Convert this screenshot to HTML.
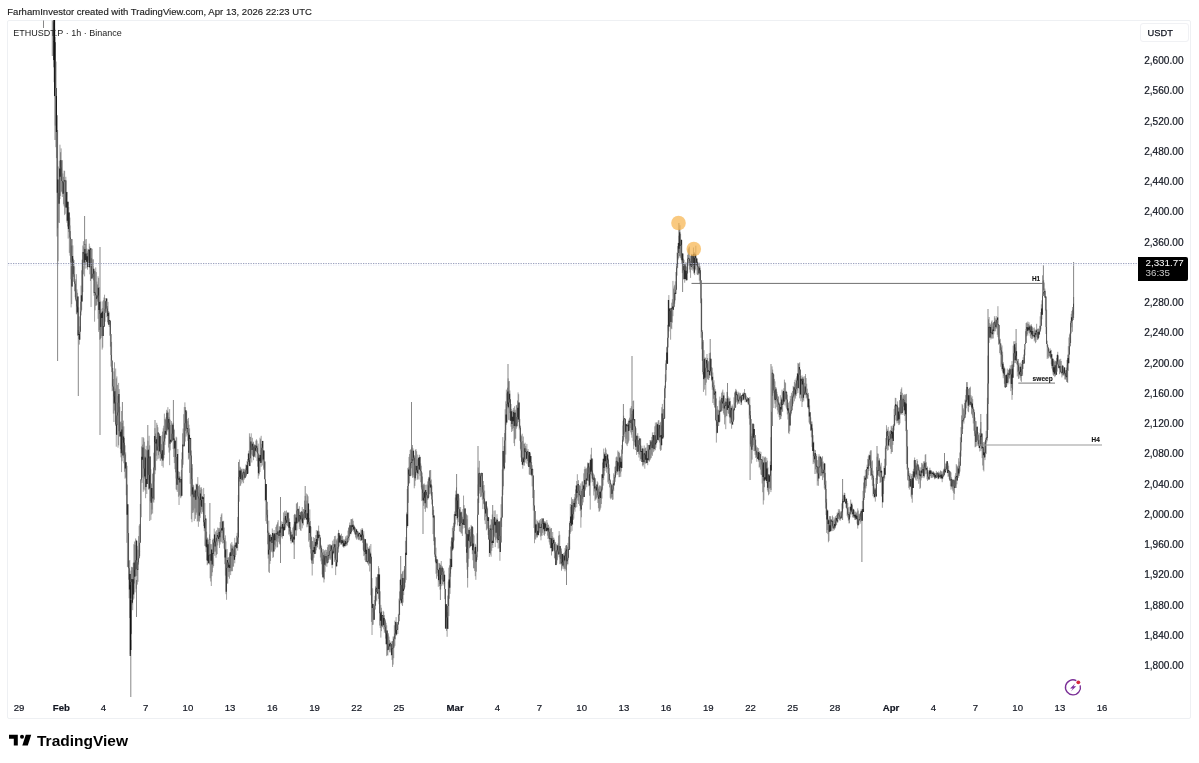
<!DOCTYPE html>
<html><head><meta charset="utf-8"><style>
html,body{margin:0;padding:0;background:#fff;width:1199px;height:763px;overflow:hidden}
body{position:relative;font-family:"Liberation Sans",sans-serif;color:#131722}
.a{position:absolute;white-space:nowrap;line-height:1}
#hdr{left:7.3px;top:7.3px;font-size:9.5px;letter-spacing:0.025px;color:#1c1c1c;-webkit-text-stroke:0.15px #1c1c1c}
#frame{position:absolute;left:7px;top:20px;width:1184px;height:698.5px;border:1px solid #eef0f3;border-radius:2px;box-sizing:border-box}
#sym{left:13.3px;top:28.6px;font-size:9px;color:#222}
.pl{position:absolute;right:15.5px;font-size:10.1px;color:#131722;line-height:1;-webkit-text-stroke:0.2px #131722}
.tl{position:absolute;top:703.2px;font-size:9.6px;color:#131722;line-height:1;-webkit-text-stroke:0.2px #131722;transform:translateX(-50%)}
.tl b{font-weight:bold}
#usdt{left:1140px;top:23px;width:49px;height:19px;border:1px solid #f0f1f4;border-radius:3px;box-sizing:border-box;font-size:9.3px;-webkit-text-stroke:0.25px #131722;text-align:left;padding-left:6.6px;line-height:18.5px;color:#131722}
#tag{left:1138px;top:257px;width:50px;height:24px;background:#000;border-radius:0 2px 2px 0}
#tag .p{position:absolute;left:7.5px;top:0.6px;font-size:9.8px;color:#fff}
#tag .c{position:absolute;left:7.5px;top:11.3px;font-size:9.8px;color:#c9c9c9}
#logo{left:9px;top:733px}
</style></head><body>
<div class="a" id="hdr">FarhamInvestor created with TradingView.com, Apr 13, 2026 22:23 UTC</div>
<div id="frame"></div>
<svg id="ch" width="1199" height="763" style="position:absolute;left:0;top:0">
<path d="M53.50 22.3V67.3M54.09 20.5V82.2M54.68 28.7V96.2M55.26 42.2V125.6M55.85 61.6V147.2M56.44 88.0V158.1M57.02 115.2V236.5M57.61 179.5V228.2M58.20 166.5V261.3M58.78 193.1V222.5M59.37 160.7V223.0M59.96 144.7V199.0M60.54 152.2V195.9M61.13 148.4V192.3M61.72 160.7V191.4M62.30 160.1V197.0M62.89 173.4V193.8M63.47 176.8V204.3M64.06 170.6V206.4M64.65 170.9V215.1M65.23 179.9V213.8M65.82 176.8V207.5M66.41 180.4V207.5M66.99 191.9V222.8M67.58 201.8V226.5M68.17 201.8V238.6M68.75 207.0V232.1M69.34 212.5V252.9M69.93 217.6V255.7M70.51 231.1V262.5M71.10 238.9V307.4M71.69 245.5V304.1M72.27 239.1V286.6M72.86 245.4V274.1M73.45 258.7V276.9M74.03 260.0V281.8M74.62 266.3V291.3M75.21 281.2V297.2M75.79 279.2V301.2M76.38 274.2V314.2M76.97 289.4V314.3M77.55 292.8V335.8M78.14 296.5V334.9M78.73 307.4V339.0M79.31 316.4V344.6M79.90 326.3V339.7M80.49 301.7V331.7M81.07 285.6V315.4M81.66 270.3V309.9M82.25 259.6V301.5M82.83 245.5V292.1M83.42 241.2V274.4M84.01 247.2V265.4M84.59 244.0V276.4M85.18 239.4V268.6M85.77 243.9V264.9M86.35 239.0V261.7M86.94 248.6V268.3M87.53 252.8V269.7M88.11 249.6V267.1M88.70 249.6V260.4M89.29 243.6V267.3M89.87 246.4V274.3M90.46 248.2V281.0M91.05 248.2V307.0M91.63 258.2V278.9M92.22 248.8V278.4M92.80 259.4V277.1M93.39 259.3V280.3M93.98 268.8V295.8M94.56 270.8V321.7M95.15 271.2V310.3M95.74 267.4V305.9M96.32 272.1V305.6M96.91 281.6V304.9M97.50 284.4V301.6M98.08 276.3V318.8M98.67 278.0V331.9M99.26 287.2V330.0M99.84 300.5V339.8M100.43 301.6V338.9M101.02 308.8V338.0M101.60 312.8V336.1M102.19 301.4V349.6M102.78 308.0V347.6M103.36 300.2V336.0M103.95 297.5V326.5M104.54 294.7V326.5M105.12 298.0V321.7M105.71 300.9V311.5M106.30 298.5V312.6M106.88 298.5V317.2M107.47 306.1V322.2M108.06 301.9V323.7M108.64 311.0V324.7M109.23 312.4V327.0M109.82 319.9V335.7M110.40 320.7V346.6M110.99 334.1V366.5M111.58 341.9V372.1M112.16 360.6V391.2M112.75 368.0V390.5M113.34 379.0V413.6M113.92 371.4V422.0M114.51 362.3V410.5M115.10 388.6V413.6M115.68 368.5V425.9M116.27 378.4V446.7M116.86 376.4V434.8M117.44 384.9V425.1M118.03 396.0V447.7M118.62 382.9V445.3M119.20 389.1V431.1M119.79 406.7V436.4M120.38 422.1V449.1M120.96 421.3V457.3M121.55 411.0V472.1M122.13 423.0V461.3M122.72 426.6V455.4M123.31 420.6V457.8M123.89 426.3V463.3M124.48 438.0V471.8M125.07 445.3V478.7M125.65 452.4V477.7M126.24 462.2V495.2M126.83 465.8V542.8M127.41 484.5V567.1M128.00 504.3V566.7M128.59 533.1V579.7M129.17 560.9V598.3M129.76 560.0V618.0M130.35 573.9V654.2M130.93 570.6V634.4M131.52 566.8V633.8M132.11 567.3V604.5M132.69 567.3V610.2M133.28 562.9V599.8M133.87 544.2V598.6M134.45 541.5V583.5M135.04 545.0V592.4M135.63 538.4V576.2M136.21 539.8V588.8M136.80 540.7V575.9M137.39 545.8V584.6M137.97 549.7V581.8M138.56 536.1V564.6M139.15 525.6V558.2M139.73 524.0V556.2M140.32 504.0V542.7M140.91 479.3V517.2M141.49 446.4V480.3M142.08 437.2V482.9M142.67 444.6V477.6M143.25 437.2V491.8M143.84 438.3V489.5M144.43 441.8V478.6M145.01 456.3V490.5M145.60 449.2V498.2M146.19 445.8V487.1M146.77 450.1V494.0M147.36 451.0V484.0M147.95 440.7V473.7M148.53 449.7V489.4M149.12 435.8V489.7M149.71 445.4V521.0M150.29 456.4V501.2M150.88 469.3V519.9M151.46 483.4V514.5M152.05 488.0V509.5M152.64 473.8V513.6M153.22 472.7V501.6M153.81 452.7V502.7M154.40 436.0V499.7M154.98 428.1V474.2M155.57 433.5V470.5M156.16 437.0V455.7M156.74 422.8V460.8M157.33 424.9V450.5M157.92 427.3V459.2M158.50 432.6V455.2M159.09 433.6V458.4M159.68 434.6V451.8M160.26 436.0V460.9M160.85 436.6V460.5M161.44 444.2V459.1M162.02 435.1V466.0M162.61 431.6V460.5M163.20 428.3V467.6M163.78 425.7V458.3M164.37 413.6V454.9M164.96 419.0V444.9M165.54 419.6V438.5M166.13 417.2V434.6M166.72 409.8V435.1M167.30 410.8V430.2M167.89 407.2V431.5M168.48 412.5V447.5M169.06 417.2V452.6M169.65 409.1V465.2M170.24 419.7V450.4M170.82 425.0V441.8M171.41 421.1V442.8M172.00 423.4V440.6M172.58 424.8V441.3M173.17 422.7V449.1M173.76 428.5V457.0M174.34 429.7V463.1M174.93 440.7V469.2M175.52 440.7V472.3M176.10 436.7V489.4M176.69 437.5V490.2M177.28 454.1V491.9M177.86 449.0V484.9M178.45 471.3V496.7M179.04 476.1V505.0M179.62 471.8V495.4M180.21 476.6V496.5M180.79 479.1V498.2M181.38 470.0V496.6M181.97 452.4V495.8M182.55 433.3V467.8M183.14 428.5V464.7M183.73 414.2V446.2M184.31 407.0V446.2M184.90 402.4V441.5M185.49 407.1V430.8M186.07 410.2V436.6M186.66 411.1V433.6M187.25 419.1V435.3M187.83 421.1V440.8M188.42 417.9V459.5M189.01 424.7V458.3M189.59 428.4V472.9M190.18 438.0V483.9M190.77 437.8V496.4M191.35 450.5V519.2M191.94 468.0V522.2M192.53 464.2V513.0M193.11 484.7V510.3M193.70 485.4V512.5M194.29 490.7V521.1M194.87 489.4V508.4M195.46 490.4V518.8M196.05 483.7V514.8M196.63 484.6V512.6M197.22 483.9V521.6M197.81 477.1V521.0M198.39 486.1V526.8M198.98 486.3V520.7M199.57 484.8V521.7M200.15 490.1V517.9M200.74 487.5V505.6M201.33 487.3V513.9M201.91 489.1V509.7M202.50 496.1V511.9M203.09 497.2V513.7M203.67 487.9V526.1M204.26 494.0V531.2M204.85 503.0V545.9M205.43 515.1V546.2M206.02 518.6V552.1M206.61 531.7V560.3M207.19 537.7V565.2M207.78 537.7V564.3M208.37 539.5V563.2M208.95 542.3V563.2M209.54 534.4V564.5M210.12 539.0V578.3M210.71 544.1V581.5M211.30 544.2V586.0M211.88 549.6V576.1M212.47 539.8V572.3M213.06 538.4V567.7M213.64 539.0V566.0M214.23 528.6V551.7M214.82 534.5V555.8M215.40 531.5V551.6M215.99 537.9V557.8M216.58 530.2V554.9M217.16 533.0V554.0M217.75 527.5V545.4M218.34 528.0V540.9M218.92 529.5V542.5M219.51 528.1V548.0M220.10 522.0V544.5M220.68 517.0V541.6M221.27 514.6V542.2M221.86 513.3V533.1M222.44 521.4V543.4M223.03 521.4V538.2M223.62 520.8V543.1M224.20 527.6V548.9M224.79 538.0V564.2M225.38 535.4V575.6M225.96 541.4V594.2M226.55 562.5V599.8M227.14 549.0V583.5M227.72 557.7V583.6M228.31 557.1V576.8M228.90 557.7V571.9M229.48 553.6V578.7M230.07 552.3V571.5M230.66 543.5V575.1M231.24 545.1V571.3M231.83 542.1V571.1M232.42 546.2V571.2M233.00 544.6V566.7M233.59 546.5V566.6M234.18 548.9V559.8M234.76 537.8V563.3M235.35 543.3V557.1M235.94 542.5V555.0M236.52 535.9V548.7M237.11 532.9V547.9M237.70 517.0V550.7M238.28 495.0V537.4M238.87 470.5V501.7M239.45 459.5V481.6M240.04 466.7V486.1M240.63 467.5V485.5M241.21 468.9V478.1M241.80 468.8V483.6M242.39 473.0V481.6M242.97 468.6V478.2M243.56 468.9V483.2M244.15 470.4V479.8M244.73 469.0V478.6M245.32 468.3V477.7M245.91 464.4V476.6M246.49 465.3V475.4M247.08 461.0V473.9M247.67 459.0V473.9M248.25 453.4V473.5M248.84 450.7V464.4M249.43 433.3V466.1M250.01 436.7V466.1M250.60 437.0V458.6M251.19 433.3V454.4M251.77 443.7V462.5M252.36 437.8V455.6M252.95 442.4V456.2M253.53 441.7V460.2M254.12 446.7V456.8M254.71 444.1V455.6M255.29 445.2V457.6M255.88 440.6V451.5M256.47 439.3V452.2M257.05 440.6V461.1M257.64 447.8V466.7M258.23 443.6V478.7M258.81 455.5V475.8M259.40 454.7V474.3M259.99 437.7V472.0M260.57 439.2V463.0M261.16 435.8V466.8M261.75 443.9V462.4M262.33 440.9V465.5M262.92 440.9V460.8M263.51 450.5V469.7M264.09 450.5V467.7M264.68 461.5V479.2M265.27 461.5V501.3M265.85 484.1V521.1M266.44 484.1V523.8M267.03 501.8V517.5M267.61 509.8V544.3M268.20 530.7V558.6M268.78 520.7V571.8M269.37 532.7V573.0M269.96 534.9V563.9M270.54 534.2V561.0M271.13 536.9V552.1M271.72 535.2V550.7M272.30 528.5V552.3M272.89 532.9V558.0M273.48 533.7V556.9M274.06 530.0V551.5M274.65 533.4V544.6M275.24 534.8V549.4M275.82 527.0V546.6M276.41 525.3V541.5M277.00 524.1V547.7M277.58 522.3V547.1M278.17 520.2V538.4M278.76 530.5V541.9M279.34 526.2V543.6M279.93 526.8V544.5M280.52 526.0V536.4M281.10 525.1V535.5M281.69 521.3V537.2M282.28 524.0V538.7M282.86 522.0V536.1M283.45 512.4V536.1M284.04 517.8V530.2M284.62 510.8V530.2M285.21 513.5V529.8M285.80 511.3V527.7M286.38 510.4V525.3M286.97 513.9V522.7M287.56 512.0V526.0M288.14 512.9V526.9M288.73 512.2V534.6M289.32 518.4V534.2M289.90 522.0V536.4M290.49 527.0V541.0M291.08 530.3V543.5M291.66 532.0V540.9M292.25 534.0V542.4M292.84 527.7V542.2M293.42 526.5V542.6M294.01 524.3V544.5M294.60 513.9V539.4M295.18 514.1V530.3M295.77 515.0V535.7M296.36 503.7V535.8M296.94 503.1V530.4M297.53 502.2V522.9M298.11 509.2V523.4M298.70 508.8V522.1M299.29 506.2V529.1M299.87 511.6V526.7M300.46 512.1V530.4M301.05 512.5V530.9M301.63 511.0V521.5M302.22 507.1V528.3M302.81 514.6V523.3M303.39 509.1V525.3M303.98 509.1V520.2M304.57 500.6V519.6M305.15 495.9V519.7M305.74 504.4V518.1M306.33 493.5V519.5M306.91 500.6V527.3M307.50 494.5V524.3M308.09 496.3V526.7M308.67 503.6V541.7M309.26 517.9V540.1M309.85 509.4V547.2M310.43 521.0V548.9M311.02 526.7V559.5M311.61 537.3V563.5M312.19 541.1V575.5M312.78 541.1V564.0M313.37 537.1V563.8M313.95 544.7V557.7M314.54 537.9V553.9M315.13 539.5V553.9M315.71 535.1V553.5M316.30 530.1V550.3M316.89 535.0V547.7M317.47 530.7V547.2M318.06 530.2V539.0M318.65 525.6V540.7M319.23 531.4V548.9M319.82 535.1V549.7M320.41 537.6V557.5M320.99 544.7V561.3M321.58 545.9V564.3M322.17 549.2V574.5M322.75 558.7V577.3M323.34 549.2V578.3M323.93 551.5V582.5M324.51 550.3V579.3M325.10 553.9V571.9M325.69 549.6V565.9M326.27 550.0V561.7M326.86 552.1V566.8M327.44 547.1V563.2M328.03 544.7V562.7M328.62 545.1V559.9M329.20 544.3V558.0M329.79 544.5V559.4M330.38 544.4V559.7M330.96 545.4V558.1M331.55 545.4V565.1M332.14 544.6V568.2M332.72 540.7V564.7M333.31 543.8V554.3M333.90 539.3V553.6M334.48 536.1V561.8M335.07 544.3V558.0M335.66 535.8V575.1M336.24 539.3V566.6M336.83 540.6V566.3M337.42 538.3V562.3M338.00 533.4V552.6M338.59 529.9V548.7M339.18 532.9V546.4M339.76 534.4V542.6M340.35 535.5V542.5M340.94 536.5V544.9M341.52 533.7V544.3M342.11 536.0V544.6M342.70 536.1V546.5M343.28 539.2V546.9M343.87 541.6V547.9M344.46 539.9V546.1M345.04 538.9V546.8M345.63 536.4V545.9M346.22 538.4V544.3M346.80 535.5V546.1M347.39 535.5V544.8M347.98 530.6V542.2M348.56 527.9V538.4M349.15 527.3V540.4M349.74 522.5V536.0M350.32 525.2V533.7M350.91 519.2V534.3M351.50 519.1V532.2M352.08 519.5V530.0M352.67 518.5V531.1M353.26 520.9V529.8M353.84 524.8V531.8M354.43 525.8V533.6M355.02 527.1V534.7M355.60 528.0V537.4M356.19 528.9V538.6M356.77 529.5V539.8M357.36 531.2V537.6M357.95 531.6V538.9M358.53 532.8V540.1M359.12 533.1V539.3M359.71 532.2V539.9M360.29 533.6V541.1M360.88 529.3V540.2M361.47 530.3V540.9M362.05 528.0V539.9M362.64 528.7V542.8M363.23 533.6V549.7M363.81 531.2V556.1M364.40 538.8V555.4M364.99 539.2V560.3M365.57 539.2V562.0M366.16 543.8V560.7M366.75 542.7V562.0M367.33 543.7V563.1M367.92 547.1V564.1M368.51 548.8V565.5M369.09 547.9V562.4M369.68 545.8V571.5M370.27 551.8V563.8M370.85 544.0V595.3M371.44 556.8V621.9M372.03 578.1V635.0M372.61 588.3V625.0M373.20 604.1V624.7M373.79 608.1V620.0M374.37 600.0V619.7M374.96 595.8V609.8M375.55 586.3V605.9M376.13 576.9V600.2M376.72 577.5V601.4M377.31 576.9V593.6M377.89 574.2V594.1M378.48 566.1V598.9M379.07 568.1V604.3M379.65 574.4V625.5M380.24 591.3V628.0M380.83 604.9V637.6M381.41 607.8V631.1M382.00 615.3V627.1M382.59 615.3V627.3M383.17 610.8V625.9M383.76 611.8V629.3M384.35 615.1V632.8M384.93 621.3V631.4M385.52 619.4V638.6M386.10 622.8V644.2M386.69 625.3V656.1M387.28 630.6V655.1M387.86 635.1V655.5M388.45 633.3V649.8M389.04 636.6V649.6M389.62 640.1V652.3M390.21 642.8V650.3M390.80 641.7V652.4M391.38 644.1V655.6M391.97 641.2V659.9M392.56 641.1V667.0M393.14 636.5V664.6M393.73 636.7V658.2M394.32 625.3V647.6M394.90 620.7V645.8M395.49 621.9V639.3M396.08 617.1V634.4M396.66 623.5V635.5M397.25 622.0V629.9M397.84 622.1V634.0M398.42 613.8V624.5M399.01 598.6V621.3M399.60 591.4V614.9M400.18 579.7V600.6M400.77 578.7V603.5M401.36 574.1V602.7M401.94 573.6V604.6M402.53 571.5V606.0M403.12 570.9V602.6M403.70 577.9V595.1M404.29 569.5V589.9M404.88 566.1V587.3M405.46 540.8V582.7M406.05 537.1V580.1M406.64 512.5V555.0M407.22 489.0V527.7M407.81 468.1V526.0M408.40 467.3V502.9M408.98 456.9V483.9M409.57 454.0V483.1M410.16 450.0V476.0M410.74 449.2V476.3M411.33 450.5V468.3M411.92 447.4V475.6M412.50 445.0V477.8M413.09 448.4V475.2M413.68 450.7V477.4M414.26 455.1V488.3M414.85 456.2V485.9M415.43 449.8V480.7M416.02 449.1V475.4M416.61 451.2V472.7M417.19 459.3V479.9M417.78 454.6V478.7M418.37 457.8V474.0M418.95 457.8V479.6M419.54 454.8V469.8M420.13 456.7V475.8M420.71 463.4V482.2M421.30 465.7V487.4M421.89 472.6V501.1M422.47 476.5V500.0M423.06 486.3V500.4M423.65 483.9V505.8M424.23 483.5V500.8M424.82 485.0V508.9M425.41 489.9V511.9M425.99 484.7V507.5M426.58 492.0V507.4M427.17 484.5V508.3M427.75 481.4V499.9M428.34 478.9V498.3M428.93 476.8V497.3M429.51 470.5V494.2M430.10 470.2V487.6M430.69 470.0V493.7M431.27 479.5V495.7M431.86 485.6V504.4M432.45 492.1V514.9M433.03 506.3V534.1M433.62 509.9V541.1M434.21 515.5V545.2M434.79 536.8V557.0M435.38 537.5V561.7M435.97 547.7V573.8M436.55 556.3V578.7M437.14 559.3V572.8M437.73 559.8V576.3M438.31 569.9V586.8M438.90 562.9V581.4M439.49 563.4V586.1M440.07 563.6V589.7M440.66 567.4V589.3M441.25 561.0V586.2M441.83 565.7V579.4M442.42 566.5V584.1M443.01 568.3V585.6M443.59 568.4V582.0M444.18 570.7V584.1M444.76 574.8V599.2M445.35 589.1V628.6M445.94 604.3V628.9M446.52 604.3V630.9M447.11 612.1V636.8M447.70 595.6V628.8M448.28 581.5V628.9M448.87 567.7V616.1M449.46 565.3V598.8M450.04 558.4V593.9M450.63 546.5V576.8M451.22 541.3V569.3M451.80 537.6V567.1M452.39 527.9V551.0M452.98 525.9V549.4M453.56 522.8V548.0M454.15 514.3V540.5M454.74 511.5V527.3M455.32 497.5V524.4M455.91 490.6V515.9M456.50 487.4V516.0M457.08 493.3V519.8M457.67 494.1V525.5M458.26 493.6V522.2M458.84 495.1V516.9M459.43 507.2V531.6M460.02 509.9V525.9M460.60 507.0V532.2M461.19 511.5V533.6M461.78 512.2V533.3M462.36 516.9V536.0M462.95 509.0V528.6M463.54 495.6V524.7M464.12 505.1V524.7M464.71 508.5V527.9M465.30 508.5V534.3M465.88 515.0V546.8M466.47 513.7V562.7M467.06 519.2V569.7M467.64 515.3V587.6M468.23 528.4V566.9M468.82 530.1V558.8M469.40 527.2V548.2M469.99 532.0V547.4M470.58 528.8V546.9M471.16 524.9V546.1M471.75 526.5V542.9M472.34 526.5V554.2M472.92 527.3V560.3M473.51 534.2V568.2M474.09 535.5V568.4M474.68 551.3V571.0M475.27 543.8V576.2M475.85 545.4V579.8M476.44 554.7V571.7M477.03 533.3V560.0M477.61 498.6V551.6M478.20 467.5V514.8M478.79 473.3V502.9M479.37 460.8V493.6M479.96 473.1V490.5M480.55 474.6V497.2M481.13 473.2V496.9M481.72 472.9V495.8M482.31 472.9V499.7M482.89 485.6V509.1M483.48 481.0V503.7M484.07 485.0V504.4M484.65 490.6V520.4M485.24 502.6V524.1M485.83 501.5V516.8M486.41 501.3V530.3M487.00 506.3V529.3M487.59 507.7V528.4M488.17 517.3V535.0M488.76 517.3V539.7M489.35 528.1V556.9M489.93 525.4V553.0M490.52 524.6V554.6M491.11 519.0V556.7M491.69 519.7V550.8M492.28 514.5V545.2M492.87 522.4V548.0M493.45 518.8V542.9M494.04 510.7V535.8M494.63 517.0V537.3M495.21 510.4V547.1M495.80 517.9V540.1M496.39 519.0V538.5M496.97 514.2V542.5M497.56 518.6V542.9M498.15 521.8V548.6M498.73 521.4V540.4M499.32 521.4V548.2M499.91 521.4V560.8M500.49 517.7V551.9M501.08 504.3V542.5M501.67 496.5V527.0M502.25 469.5V517.6M502.84 437.1V495.2M503.42 450.9V486.3M504.01 446.0V470.5M504.60 433.0V468.6M505.18 409.2V462.7M505.77 401.3V454.6M506.36 389.6V424.7M506.94 393.3V422.6M507.53 387.7V405.8M508.12 378.4V408.5M508.70 381.4V419.8M509.29 381.0V420.4M509.88 390.5V413.1M510.46 399.3V420.7M511.05 404.0V426.7M511.64 408.9V432.0M512.22 411.4V429.0M512.81 410.4V430.9M513.40 407.9V428.1M513.98 410.3V443.2M514.57 406.3V446.1M515.16 411.8V439.4M515.74 409.7V438.6M516.33 405.3V428.8M516.92 404.9V427.3M517.50 400.5V426.0M518.09 392.4V419.4M518.68 394.2V422.1M519.26 402.6V429.5M519.85 418.9V440.8M520.44 425.6V448.8M521.02 434.8V457.5M521.61 436.2V461.8M522.20 433.7V464.7M522.78 441.0V468.7M523.37 436.5V465.5M523.96 443.8V462.3M524.54 443.8V465.6M525.13 442.7V462.6M525.72 446.1V460.0M526.30 448.6V458.8M526.89 443.9V463.7M527.48 450.9V460.9M528.06 449.0V465.7M528.65 451.9V466.9M529.24 451.9V474.4M529.82 451.9V475.0M530.41 453.3V469.0M531.00 456.1V475.3M531.58 462.0V476.2M532.17 465.2V486.4M532.75 469.0V498.0M533.34 475.5V510.6M533.93 489.9V528.0M534.51 505.5V543.2M535.10 511.1V539.2M535.69 523.5V539.6M536.27 524.1V536.6M536.86 519.6V537.8M537.45 521.1V537.3M538.03 521.8V535.8M538.62 522.6V535.1M539.21 520.1V531.7M539.79 521.4V533.0M540.38 519.0V536.5M540.97 523.6V540.3M541.55 518.3V535.6M542.14 520.5V535.8M542.73 518.5V532.9M543.31 518.5V530.2M543.90 521.7V535.0M544.49 521.5V535.8M545.07 521.2V533.9M545.66 522.1V530.7M546.25 523.9V531.0M546.83 520.0V531.8M547.42 522.7V535.7M548.01 525.0V539.0M548.59 524.6V537.8M549.18 528.5V542.3M549.77 526.7V544.7M550.35 529.1V548.3M550.94 528.0V548.1M551.53 528.2V555.5M552.11 536.1V551.3M552.70 532.0V551.3M553.29 537.7V550.8M553.87 537.7V549.5M554.46 539.5V558.0M555.05 541.9V559.3M555.63 542.3V565.1M556.22 544.1V565.1M556.81 545.2V563.5M557.39 545.2V559.9M557.98 543.4V554.2M558.57 535.6V554.9M559.15 531.1V557.3M559.74 534.8V564.2M560.33 546.1V559.1M560.91 551.4V564.5M561.50 548.5V570.7M562.08 554.0V568.8M562.67 554.0V566.1M563.26 553.2V567.2M563.84 554.9V569.2M564.43 552.4V568.7M565.02 548.1V571.3M565.60 545.6V568.9M566.19 549.4V570.0M566.78 545.3V565.6M567.36 546.6V564.1M567.95 542.9V564.4M568.54 536.7V557.8M569.12 530.0V549.5M569.71 521.3V549.5M570.30 504.0V533.8M570.88 507.0V532.1M571.47 497.3V525.8M572.06 501.7V530.8M572.64 499.1V525.0M573.23 499.3V520.0M573.82 501.0V518.6M574.40 497.3V509.5M574.99 494.0V511.7M575.58 489.4V508.0M576.16 485.5V504.0M576.75 481.0V507.2M577.34 474.2V497.4M577.92 484.1V500.6M578.51 480.2V504.0M579.10 485.3V496.6M579.68 490.7V505.7M580.27 485.9V511.0M580.86 483.4V527.7M581.44 491.0V517.3M582.03 481.5V505.3M582.62 481.4V498.8M583.20 484.6V502.4M583.79 473.3V496.9M584.38 469.2V496.9M584.96 466.6V490.9M585.55 468.6V489.5M586.14 469.2V484.3M586.72 468.1V487.2M587.31 466.7V480.6M587.90 462.3V477.9M588.48 463.2V481.3M589.07 466.1V486.4M589.66 462.6V495.7M590.24 459.2V509.6M590.83 454.5V482.5M591.41 447.8V475.5M592.00 458.6V478.5M592.59 458.7V482.0M593.17 472.8V485.9M593.76 474.0V495.5M594.35 475.3V491.5M594.93 479.5V500.9M595.52 478.2V499.6M596.11 487.3V499.5M596.69 484.6V498.2M597.28 481.3V497.1M597.87 482.5V503.0M598.45 488.6V508.2M599.04 486.8V511.8M599.63 485.3V511.2M600.21 486.2V509.6M600.80 485.6V507.7M601.39 486.7V504.0M601.97 474.3V498.6M602.56 462.5V490.4M603.15 458.8V485.7M603.73 448.6V479.9M604.32 452.4V475.7M604.91 453.7V471.1M605.49 447.7V465.3M606.08 449.5V468.5M606.67 452.9V472.7M607.25 454.6V468.8M607.84 454.6V482.4M608.43 458.5V484.0M609.01 464.4V480.7M609.60 473.9V487.4M610.19 479.2V497.8M610.77 482.9V499.3M611.36 484.5V498.4M611.95 486.1V497.0M612.53 484.7V499.9M613.12 480.3V499.5M613.71 473.3V491.1M614.29 474.9V485.9M614.88 466.7V481.8M615.47 466.4V478.2M616.05 457.4V475.2M616.64 456.5V473.3M617.23 457.3V471.6M617.81 450.5V474.8M618.40 452.0V469.2M618.99 451.6V477.2M619.57 453.1V477.1M620.16 457.5V473.4M620.74 455.9V476.8M621.33 458.8V471.5M621.92 444.9V468.0M622.50 436.0V453.8M623.09 421.1V442.0M623.68 415.7V441.2M624.26 418.4V437.1M624.85 418.0V433.7M625.44 419.1V443.3M626.02 423.7V438.8M626.61 424.3V444.5M627.20 426.0V446.1M627.78 422.9V443.9M628.37 421.1V442.6M628.96 419.5V440.7M629.54 417.7V430.5M630.13 408.4V428.0M630.72 408.1V432.4M631.30 406.2V434.7M631.89 414.2V437.7M632.48 410.9V431.9M633.06 401.0V441.1M633.65 400.5V449.2M634.24 419.2V445.5M634.82 419.2V442.3M635.41 426.4V450.0M636.00 428.2V446.8M636.58 435.8V454.9M637.17 435.8V451.2M637.76 433.2V452.0M638.34 440.1V454.1M638.93 436.2V457.5M639.52 438.6V454.7M640.10 438.6V460.9M640.69 438.4V459.1M641.28 448.8V459.1M641.86 445.7V461.9M642.45 448.6V465.5M643.04 448.6V466.6M643.62 453.5V464.9M644.21 445.5V463.3M644.80 448.6V468.7M645.38 448.1V463.3M645.97 447.3V463.8M646.56 450.7V463.0M647.14 443.0V463.0M647.73 444.8V465.2M648.32 448.9V461.2M648.90 444.9V460.0M649.49 444.9V461.6M650.07 440.0V460.1M650.66 440.5V458.7M651.25 440.0V457.9M651.83 436.9V454.6M652.42 432.4V455.9M653.01 435.0V449.3M653.59 435.1V452.2M654.18 432.1V450.7M654.77 426.3V448.4M655.35 422.5V450.2M655.94 425.4V447.7M656.53 422.5V443.1M657.11 422.3V442.4M657.70 423.9V439.9M658.29 420.4V440.7M658.87 420.1V435.7M659.46 425.0V442.5M660.05 422.8V449.4M660.63 421.8V451.0M661.22 425.5V449.9M661.81 407.2V445.3M662.39 403.9V438.4M662.98 409.4V438.4M663.57 409.0V437.5M664.15 399.7V418.4M664.74 385.6V418.4M665.33 374.4V398.2M665.91 360.3V382.1M666.50 347.2V370.0M667.09 346.5V363.8M667.67 324.9V363.8M668.26 299.9V347.4M668.85 295.1V331.5M669.43 308.6V326.6M670.02 308.6V326.8M670.61 307.9V339.7M671.19 307.9V328.4M671.78 302.7V329.2M672.37 299.1V322.6M672.95 280.9V316.2M673.54 288.6V309.8M674.13 286.4V307.2M674.71 284.8V303.7M675.30 281.3V300.3M675.89 272.0V293.9M676.47 263.2V289.7M677.06 252.6V275.6M677.65 246.1V268.2M678.23 242.9V259.5M678.82 235.7V258.0M679.40 229.0V256.2M679.99 225.2V256.3M680.58 233.9V257.9M681.16 239.2V259.7M681.75 239.9V263.5M682.34 253.5V273.1M682.92 253.5V271.3M683.51 258.6V279.4M684.10 259.8V279.1M684.68 264.0V282.7M685.27 264.4V279.4M685.86 261.9V280.5M686.44 266.7V280.2M687.03 263.4V280.2M687.62 254.9V273.4M688.20 249.2V265.9M688.79 247.6V263.4M689.38 246.5V269.5M689.96 258.9V272.5M690.55 255.6V277.9M691.14 255.8V266.7M691.72 253.9V269.9M692.31 254.7V268.5M692.90 255.5V270.7M693.48 247.5V269.3M694.07 252.2V273.9M694.66 252.8V275.1M695.24 254.6V269.1M695.83 245.7V270.4M696.42 257.5V265.4M697.00 258.5V274.4M697.59 261.7V274.9M698.18 262.7V275.1M698.76 263.7V273.4M699.35 262.7V280.7M699.94 265.9V284.2M700.52 270.2V303.2M701.11 280.3V337.8M701.70 298.5V349.3M702.28 330.0V360.8M702.87 342.0V374.4M703.46 340.1V391.9M704.04 350.2V379.7M704.63 357.5V389.6M705.22 358.0V385.0M705.80 357.6V395.5M706.39 359.9V382.6M706.98 354.0V377.5M707.56 358.0V379.3M708.15 361.0V379.5M708.73 361.6V380.0M709.32 353.1V378.0M709.91 357.9V375.3M710.49 352.6V372.5M711.08 358.8V375.9M711.67 367.0V381.3M712.25 367.9V389.8M712.84 372.5V403.0M713.43 382.4V398.8M714.01 380.3V405.0M714.60 385.2V407.5M715.19 388.9V407.6M715.77 391.4V421.2M716.36 398.4V442.6M716.95 409.4V433.4M717.53 406.1V432.8M718.12 410.4V426.1M718.71 409.7V426.0M719.29 400.5V422.2M719.88 396.6V421.6M720.47 399.5V411.7M721.05 400.6V411.5M721.64 392.8V410.6M722.23 391.6V410.8M722.81 389.6V408.2M723.40 395.5V413.3M723.99 392.5V414.8M724.57 402.9V424.4M725.16 401.4V417.3M725.75 398.1V429.2M726.33 398.9V415.9M726.92 391.9V416.3M727.51 392.1V409.8M728.09 396.4V413.2M728.68 401.6V414.0M729.27 398.8V416.5M729.85 397.6V423.3M730.44 401.0V423.5M731.03 407.6V419.1M731.61 406.3V428.7M732.20 404.5V424.6M732.79 406.2V424.6M733.37 407.8V421.6M733.96 397.3V419.8M734.55 392.7V410.2M735.13 391.6V407.9M735.72 388.9V407.3M736.31 389.8V402.3M736.89 392.3V400.4M737.48 394.5V404.5M738.06 391.6V403.7M738.65 392.8V403.2M739.24 394.6V403.9M739.82 392.6V401.0M740.41 393.2V401.3M741.00 395.6V405.1M741.58 395.2V404.8M742.17 395.4V400.9M742.76 393.2V399.9M743.34 392.4V400.4M743.93 393.2V399.7M744.52 389.0V397.7M745.10 392.8V402.2M745.69 393.4V400.1M746.28 395.6V402.3M746.86 398.4V401.8M747.45 397.1V402.7M748.04 397.7V404.6M748.62 398.3V404.5M749.21 398.6V418.7M749.80 397.0V424.7M750.38 411.0V444.2M750.97 419.0V446.6M751.56 436.0V463.5M752.14 433.6V459.6M752.73 423.5V447.0M753.32 423.8V445.3M753.90 424.2V451.1M754.49 429.0V451.0M755.08 435.1V454.8M755.66 439.5V457.9M756.25 445.5V455.1M756.84 447.6V461.8M757.42 447.4V458.7M758.01 451.7V459.2M758.60 448.1V461.6M759.18 452.0V467.6M759.77 451.1V466.9M760.36 454.0V469.6M760.94 451.9V474.6M761.53 459.6V475.1M762.12 459.3V483.5M762.70 456.2V492.2M763.29 462.5V504.6M763.88 456.5V500.3M764.46 457.7V487.2M765.05 457.4V480.6M765.64 456.7V479.5M766.22 462.3V481.1M766.81 457.9V483.2M767.39 460.6V490.4M767.98 467.5V492.1M768.57 474.4V495.3M769.15 474.4V494.1M769.74 475.7V488.7M770.33 461.4V488.1M770.91 437.2V492.1M771.50 411.8V470.4M772.09 366.4V426.1M772.67 369.6V395.8M773.26 373.6V393.1M773.85 374.5V408.0M774.43 378.9V400.3M775.02 381.4V403.7M775.61 387.0V408.6M776.19 387.6V401.4M776.78 391.7V407.1M777.37 394.3V410.4M777.95 396.3V414.2M778.54 396.6V412.5M779.13 403.2V417.2M779.71 402.5V420.0M780.30 395.2V418.9M780.89 402.2V419.0M781.47 397.5V416.3M782.06 389.6V411.8M782.65 392.2V411.6M783.23 390.9V404.4M783.82 388.2V402.8M784.41 379.6V401.5M784.99 382.0V405.4M785.58 383.1V399.0M786.17 390.8V407.5M786.75 392.1V409.2M787.34 394.6V414.4M787.93 405.4V419.5M788.51 402.6V432.9M789.10 411.7V434.1M789.69 401.3V431.4M790.27 395.9V425.4M790.86 399.1V415.6M791.45 392.8V413.5M792.03 395.3V410.3M792.62 391.0V406.3M793.21 385.9V403.7M793.79 387.2V397.8M794.38 382.0V401.3M794.97 379.8V396.5M795.55 383.4V398.6M796.14 378.3V396.0M796.72 376.4V394.2M797.31 373.4V390.5M797.90 362.9V393.0M798.48 363.8V387.9M799.07 363.2V389.0M799.66 362.3V398.3M800.24 369.6V394.6M800.83 376.1V401.2M801.42 378.8V398.3M802.00 375.4V407.0M802.59 377.1V402.0M803.18 378.7V399.9M803.76 376.6V401.3M804.35 382.9V394.5M804.94 376.1V395.3M805.52 374.0V394.8M806.11 378.0V398.5M806.70 383.7V397.5M807.28 388.7V400.5M807.87 394.9V407.2M808.46 392.9V409.0M809.04 398.8V422.5M809.63 405.5V423.9M810.22 412.3V424.9M810.80 417.4V430.6M811.39 421.5V437.3M811.98 421.5V446.9M812.56 427.9V450.9M813.15 435.2V464.1M813.74 441.6V462.1M814.32 449.5V463.4M814.91 453.1V474.0M815.50 450.1V469.3M816.08 455.9V473.8M816.67 454.2V472.5M817.26 460.1V485.6M817.84 466.7V481.1M818.43 456.6V485.8M819.02 454.2V478.5M819.60 456.4V467.3M820.19 455.9V475.6M820.78 456.8V476.2M821.36 457.6V476.1M821.95 462.0V475.0M822.54 456.3V480.1M823.12 461.5V474.3M823.71 463.8V477.5M824.30 462.9V488.4M824.88 463.5V489.9M825.47 472.9V508.6M826.05 480.7V515.0M826.64 498.9V532.9M827.23 509.2V530.0M827.81 510.4V534.1M828.40 518.8V542.3M828.99 520.2V540.9M829.57 516.1V532.1M830.16 516.2V531.3M830.75 516.3V531.3M831.33 519.6V530.6M831.92 520.2V531.2M832.51 515.6V528.3M833.09 517.2V531.0M833.68 520.5V528.5M834.27 519.3V530.1M834.85 517.5V527.3M835.44 516.2V528.3M836.03 518.1V524.9M836.61 515.1V525.3M837.20 512.7V522.7M837.79 512.7V522.6M838.37 509.2V518.9M838.96 511.4V518.8M839.55 509.3V519.9M840.13 511.4V520.9M840.72 512.5V519.4M841.31 511.1V518.2M841.89 503.4V518.3M842.48 498.9V512.7M843.07 494.9V508.6M843.65 495.5V503.1M844.24 492.7V501.7M844.83 493.0V501.5M845.41 497.2V503.4M846.00 499.0V507.7M846.59 498.2V508.5M847.17 500.9V515.8M847.76 503.0V517.5M848.35 507.2V520.7M848.93 511.9V523.4M849.52 512.5V523.2M850.11 506.7V517.4M850.69 499.6V513.9M851.28 503.5V512.2M851.87 502.6V514.6M852.45 505.2V517.4M853.04 508.5V514.8M853.62 509.0V517.9M854.21 509.8V517.0M854.80 511.7V519.8M855.38 511.6V520.0M855.97 513.7V519.6M856.56 512.6V519.4M857.14 511.5V523.7M857.73 508.4V528.6M858.32 510.5V525.3M858.90 514.2V524.9M859.49 514.2V521.1M860.08 513.2V523.9M860.66 510.9V522.3M861.25 508.9V520.9M861.84 511.2V520.7M862.42 500.8V520.7M863.01 490.8V511.9M863.60 482.5V511.9M864.18 475.9V500.0M864.77 475.8V488.3M865.36 469.8V492.7M865.94 475.1V488.4M866.53 469.1V486.1M867.12 464.7V478.4M867.70 459.0V478.9M868.29 456.2V475.2M868.88 454.6V471.1M869.46 455.3V466.0M870.05 451.5V465.1M870.64 450.3V475.9M871.22 450.3V476.1M871.81 461.5V479.7M872.40 460.5V485.9M872.98 470.6V496.2M873.57 475.8V494.1M874.16 483.9V498.2M874.74 487.6V496.9M875.33 488.0V501.6M875.92 478.0V496.4M876.50 466.9V496.4M877.09 456.8V483.9M877.68 453.4V475.2M878.26 453.8V475.6M878.85 460.5V476.5M879.44 458.3V476.9M880.02 464.5V483.0M880.61 467.0V482.3M881.20 462.8V482.0M881.78 470.8V496.5M882.37 476.5V507.8M882.95 476.8V502.3M883.54 475.4V494.0M884.13 466.1V480.8M884.71 458.8V478.7M885.30 447.7V474.7M885.89 438.0V465.6M886.47 425.2V449.0M887.06 428.8V440.1M887.65 430.5V450.6M888.23 426.9V449.9M888.82 431.4V445.6M889.41 431.5V441.8M889.99 430.5V446.7M890.58 430.1V448.9M891.17 425.8V453.9M891.75 426.4V452.1M892.34 428.1V452.0M892.93 425.4V444.9M893.51 424.2V440.9M894.10 408.9V430.4M894.69 405.6V425.5M895.27 397.8V415.9M895.86 398.0V420.3M896.45 404.9V421.2M897.03 404.1V423.4M897.62 401.4V420.8M898.21 407.3V423.1M898.79 407.9V425.1M899.38 407.4V424.6M899.97 400.1V423.3M900.55 391.8V413.2M901.14 389.1V414.8M901.73 387.4V413.1M902.31 392.9V413.0M902.90 397.7V414.9M903.49 394.7V406.7M904.07 395.5V411.5M904.66 394.2V416.0M905.25 395.2V421.1M905.83 394.2V431.1M906.42 393.9V464.0M907.01 429.8V469.5M907.59 446.4V479.9M908.18 467.8V481.0M908.77 470.9V487.9M909.35 474.7V489.6M909.94 473.0V486.6M910.53 478.9V486.8M911.11 473.9V496.7M911.70 476.1V498.7M912.28 474.0V502.7M912.87 471.2V487.9M913.46 468.8V487.9M914.04 460.3V477.5M914.63 457.5V478.1M915.22 460.0V478.5M915.80 465.4V480.3M916.39 463.3V476.8M916.98 459.0V480.8M917.56 460.8V478.8M918.15 464.5V475.4M918.74 465.6V483.8M919.32 469.5V479.3M919.91 467.4V488.9M920.50 470.8V487.8M921.08 467.4V480.4M921.67 462.9V478.1M922.26 463.4V473.5M922.84 464.8V477.6M923.43 461.4V476.1M924.02 464.1V478.2M924.60 461.2V476.7M925.19 454.8V474.3M925.78 454.1V470.6M926.36 462.3V473.8M926.95 467.9V479.3M927.54 466.5V480.9M928.12 470.2V479.5M928.71 472.2V479.4M929.30 470.6V479.4M929.88 467.7V476.0M930.47 470.4V476.2M931.06 470.4V478.1M931.64 471.4V477.7M932.23 471.6V478.0M932.82 471.7V476.6M933.40 471.3V476.9M933.99 472.1V477.6M934.58 473.5V479.3M935.16 473.4V478.4M935.75 473.1V478.7M936.34 470.9V477.9M936.92 472.7V478.0M937.51 472.7V477.1M938.10 473.0V479.3M938.68 471.4V478.6M939.27 472.5V477.1M939.86 472.7V478.4M940.44 470.4V478.5M941.03 471.0V478.9M941.61 471.5V479.2M942.20 473.6V482.2M942.79 471.5V478.6M943.37 470.6V476.5M943.96 468.6V476.3M944.55 468.3V474.2M945.13 466.5V473.0M945.72 463.6V473.1M946.31 462.6V469.9M946.89 461.2V470.5M947.48 461.2V473.1M948.07 463.4V476.8M948.65 465.7V476.4M949.24 470.5V479.0M949.83 471.2V480.5M950.41 471.7V486.3M951.00 472.4V489.6M951.59 477.3V486.5M952.17 479.3V488.7M952.76 479.7V490.7M953.35 479.7V492.7M953.93 480.6V499.9M954.52 479.8V493.8M955.11 475.7V488.1M955.69 473.1V486.4M956.28 464.1V488.0M956.87 465.3V484.3M957.45 466.7V480.5M958.04 465.8V475.6M958.63 458.2V477.9M959.21 461.6V476.0M959.80 452.5V471.6M960.39 437.3V465.7M960.97 427.1V456.6M961.56 415.4V442.2M962.15 403.9V434.0M962.73 405.3V429.0M963.32 408.3V421.9M963.91 409.8V423.6M964.49 403.0V418.1M965.08 399.5V418.1M965.67 395.1V414.4M966.25 389.4V408.3M966.84 382.3V403.3M967.43 386.9V399.6M968.01 389.0V411.4M968.60 395.3V412.2M969.19 387.6V404.8M969.77 388.0V406.8M970.36 386.6V404.8M970.94 395.1V405.6M971.53 397.6V413.8M972.12 396.2V415.3M972.70 399.1V417.9M973.29 406.8V423.5M973.88 409.6V430.8M974.46 412.2V436.1M975.05 417.5V447.3M975.64 430.6V446.7M976.22 421.2V446.3M976.81 426.7V440.3M977.40 426.7V444.4M977.98 432.1V440.6M978.57 435.1V446.2M979.16 439.7V448.1M979.74 433.0V451.5M980.33 428.6V446.2M980.92 422.0V450.9M981.50 433.6V448.9M982.09 433.6V458.1M982.68 443.7V465.5M983.26 442.0V469.9M983.85 448.5V471.4M984.44 442.4V458.0M985.02 441.3V460.1M985.61 438.3V453.1M986.20 430.9V454.1M986.78 413.9V442.5M987.37 397.8V440.5M987.96 355.6V404.0M988.54 319.3V383.5M989.13 317.0V342.9M989.72 323.0V337.9M990.30 324.9V337.5M990.89 323.7V339.5M991.48 321.7V338.4M992.06 320.4V334.3M992.65 323.3V338.6M993.24 326.6V338.4M993.82 322.3V334.3M994.41 316.2V331.4M995.00 317.9V328.5M995.58 319.6V331.3M996.17 316.0V328.6M996.76 318.7V328.4M997.34 317.5V334.8M997.93 306.2V337.1M998.52 324.0V344.6M999.10 324.9V344.2M999.69 339.6V353.0M1000.27 338.8V354.6M1000.86 343.2V366.8M1001.45 347.4V364.5M1002.03 345.5V370.7M1002.62 351.7V372.5M1003.21 362.0V378.2M1003.79 366.0V376.1M1004.38 367.4V383.7M1004.97 368.5V387.3M1005.55 375.4V387.7M1006.14 374.7V387.1M1006.73 373.8V386.9M1007.31 368.6V382.9M1007.90 372.3V384.4M1008.49 369.7V382.6M1009.07 370.4V378.8M1009.66 368.0V378.2M1010.25 365.4V383.8M1010.83 368.9V391.1M1011.42 364.9V387.9M1012.01 361.1V399.8M1012.59 364.2V389.6M1013.18 345.6V377.7M1013.77 341.3V366.9M1014.35 344.2V363.1M1014.94 341.1V360.2M1015.53 347.4V363.1M1016.11 343.0V356.2M1016.70 351.2V364.3M1017.29 358.9V376.4M1017.87 362.5V371.8M1018.46 359.0V378.9M1019.05 363.4V378.6M1019.63 366.8V375.4M1020.22 362.7V377.6M1020.81 366.7V380.6M1021.39 364.1V381.9M1021.98 361.3V374.4M1022.57 360.0V376.0M1023.15 357.2V368.9M1023.74 354.6V363.5M1024.33 349.4V363.4M1024.91 343.9V355.4M1025.50 331.2V344.0M1026.09 323.0V342.9M1026.67 322.4V336.3M1027.26 323.5V334.2M1027.85 321.5V335.6M1028.43 324.1V331.1M1029.02 322.3V332.8M1029.60 324.8V333.5M1030.19 327.1V336.3M1030.78 324.8V338.1M1031.36 324.3V339.1M1031.95 328.6V335.6M1032.54 326.7V338.9M1033.12 327.9V337.8M1033.71 331.1V336.2M1034.30 327.5V341.4M1034.88 329.5V339.9M1035.47 330.9V343.2M1036.06 329.4V342.1M1036.64 323.8V336.8M1037.23 329.1V339.8M1037.82 328.7V340.1M1038.40 328.5V338.4M1038.99 329.2V337.5M1039.58 325.8V334.5M1040.16 316.3V331.5M1040.75 312.1V329.5M1041.34 304.3V325.8M1041.92 300.3V319.3M1042.51 275.3V314.8M1043.10 281.1V296.1M1043.68 279.9V293.6M1044.27 282.6V295.2M1044.86 288.5V297.7M1045.44 290.8V310.6M1046.03 296.5V334.0M1046.62 309.6V343.9M1047.20 340.7V359.0M1047.79 345.0V357.5M1048.38 347.6V358.4M1048.96 349.1V355.9M1049.55 352.2V356.5M1050.14 348.3V357.6M1050.72 350.8V359.0M1051.31 349.9V364.3M1051.90 354.1V368.5M1052.48 358.4V370.5M1053.07 358.8V374.7M1053.66 360.8V375.8M1054.24 360.4V375.4M1054.83 362.1V377.2M1055.42 360.8V376.0M1056.00 361.2V374.7M1056.59 357.9V374.7M1057.18 354.8V371.6M1057.76 351.8V364.4M1058.35 355.4V367.7M1058.93 359.5V368.6M1059.52 359.5V374.2M1060.11 361.2V369.6M1060.69 358.8V372.6M1061.28 361.0V374.1M1061.87 366.2V377.4M1062.45 364.9V375.1M1063.04 365.8V376.1M1063.63 369.4V375.0M1064.21 367.4V375.6M1064.80 367.4V379.5M1065.39 370.4V379.0M1065.97 370.1V380.0M1066.56 367.5V381.9M1067.15 359.8V377.0M1067.73 354.7V383.0M1068.32 346.2V370.8M1068.91 337.5V363.2M1069.49 334.3V354.6M1070.08 332.7V346.3M1070.67 320.8V343.0M1071.25 313.8V333.5M1071.84 311.0V327.3M1072.43 309.8V331.8M1073.01 307.0V320.1M1073.60 297.0V314.6" stroke="#606060" stroke-width="0.6" fill="none"/>
<path d="M43.50 20.5V28.0M52.30 20.5V56.0M55.00 37.0V140.0M57.60 130.0V361.0M78.30 330.0V396.0M84.60 216.0V245.0M100.00 247.0V435.0M122.40 402.0V440.0M130.80 640.0V697.0M136.50 580.0V617.0M147.80 425.0V480.0M155.00 420.0V470.0M173.40 400.0V440.0M209.90 503.0V540.0M280.50 497.0V563.0M294.20 515.0V559.0M305.20 486.0V518.0M400.70 556.0V600.0M411.50 402.0V460.0M423.00 485.0V534.0M440.40 565.0V600.0M456.60 474.0V512.0M467.60 534.0V578.0M478.00 446.0V496.0M492.70 505.0V530.0M508.00 364.0V400.0M566.50 545.0V585.0M623.40 404.0V435.0M632.00 356.0V420.0M678.90 223.0V253.0M682.60 254.0V292.0M710.20 339.0V370.0M727.50 383.0V410.0M750.10 405.0V480.0M771.00 364.0V490.0M842.60 479.0V520.0M861.90 510.0V562.0M877.00 446.0V480.0M944.50 453.0V475.0M967.00 382.0V400.0M980.80 414.0V440.0M988.00 309.0V430.0M1016.10 329.0V360.0M1043.40 265.0V290.0M1073.60 262.0V318.0M1067.40 360.0V382.0M1012.40 365.0V395.0M238.50 462.0V544.0" stroke="#555" stroke-width="0.7" fill="none"/>
<path d="M53.20 41.0h0.6V41.8h-0.6zM53.79 41.4h0.6V60.2h-0.6zM54.38 42.2h0.6V60.2h-0.6zM54.96 42.2h0.6V61.6h-0.6zM55.55 61.6h0.6V88.0h-0.6zM56.14 88.0h0.6V115.2h-0.6zM56.72 115.2h0.6V192.7h-0.6zM57.31 179.5h0.6V192.7h-0.6zM57.90 179.5h0.6V197.7h-0.6zM58.48 197.7h0.6V203.8h-0.6zM59.07 168.5h0.6V203.8h-0.6zM59.66 168.5h0.6V176.7h-0.6zM60.24 160.1h0.6V176.7h-0.6zM60.83 160.1h0.6V167.6h-0.6zM61.42 167.6h0.6V181.0h-0.6zM62.00 181.0h0.6V183.3h-0.6zM62.59 183.3h0.6V193.8h-0.6zM63.17 181.9h0.6V193.8h-0.6zM63.76 180.6h0.6V181.9h-0.6zM64.35 180.0h0.6V180.8h-0.6zM64.93 180.3h0.6V192.9h-0.6zM65.52 192.9h0.6V207.5h-0.6zM66.11 191.9h0.6V207.5h-0.6zM66.69 191.9h0.6V220.8h-0.6zM67.28 201.8h0.6V220.8h-0.6zM67.87 201.8h0.6V228.9h-0.6zM68.45 212.5h0.6V228.9h-0.6zM69.04 212.5h0.6V225.4h-0.6zM69.63 225.4h0.6V237.5h-0.6zM70.21 237.5h0.6V238.9h-0.6zM70.80 238.9h0.6V279.3h-0.6zM71.39 279.3h0.6V286.6h-0.6zM71.97 255.9h0.6V286.6h-0.6zM72.56 255.9h0.6V261.6h-0.6zM73.15 261.6h0.6V274.2h-0.6zM73.73 274.2h0.6V281.8h-0.6zM74.32 281.8h0.6V283.8h-0.6zM74.91 283.8h0.6V291.2h-0.6zM75.49 291.2h0.6V299.6h-0.6zM76.08 299.6h0.6V306.4h-0.6zM76.67 306.4h0.6V312.6h-0.6zM77.25 296.5h0.6V312.6h-0.6zM77.84 296.5h0.6V334.9h-0.6zM78.43 334.0h0.6V334.9h-0.6zM79.01 334.0h0.6V339.7h-0.6zM79.60 331.7h0.6V339.7h-0.6zM80.19 311.6h0.6V331.7h-0.6zM80.77 295.3h0.6V311.6h-0.6zM81.36 295.3h0.6V301.5h-0.6zM81.95 259.6h0.6V301.5h-0.6zM82.53 252.0h0.6V259.6h-0.6zM83.12 252.0h0.6V253.8h-0.6zM83.71 253.8h0.6V262.4h-0.6zM84.29 249.0h0.6V262.4h-0.6zM84.88 249.0h0.6V260.0h-0.6zM85.47 253.5h0.6V260.0h-0.6zM86.05 253.5h0.6V261.7h-0.6zM86.64 256.2h0.6V261.7h-0.6zM87.23 256.2h0.6V267.1h-0.6zM87.81 251.1h0.6V267.1h-0.6zM88.40 249.6h0.6V251.1h-0.6zM88.99 249.6h0.6V267.3h-0.6zM89.57 249.7h0.6V267.3h-0.6zM90.16 248.2h0.6V249.7h-0.6zM90.75 248.2h0.6V264.1h-0.6zM91.33 264.1h0.6V278.4h-0.6zM91.92 277.1h0.6V278.4h-0.6zM92.50 273.7h0.6V277.1h-0.6zM93.09 268.8h0.6V273.7h-0.6zM93.68 268.8h0.6V292.9h-0.6zM94.26 292.2h0.6V293.0h-0.6zM94.85 292.3h0.6V293.2h-0.6zM95.44 293.2h0.6V295.3h-0.6zM96.02 295.3h0.6V298.8h-0.6zM96.61 297.6h0.6V298.8h-0.6zM97.20 295.4h0.6V297.6h-0.6zM97.78 287.8h0.6V295.4h-0.6zM98.37 287.8h0.6V309.9h-0.6zM98.96 301.9h0.6V309.9h-0.6zM99.54 301.9h0.6V313.8h-0.6zM100.13 313.8h0.6V327.0h-0.6zM100.72 312.8h0.6V327.0h-0.6zM101.30 312.8h0.6V318.1h-0.6zM101.89 311.6h0.6V318.1h-0.6zM102.48 311.6h0.6V336.0h-0.6zM103.06 326.3h0.6V336.0h-0.6zM103.65 326.0h0.6V326.8h-0.6zM104.24 313.0h0.6V326.5h-0.6zM104.82 309.0h0.6V313.0h-0.6zM105.41 301.2h0.6V309.0h-0.6zM106.00 298.5h0.6V301.2h-0.6zM106.58 298.5h0.6V308.5h-0.6zM107.17 308.5h0.6V315.9h-0.6zM107.76 312.7h0.6V315.9h-0.6zM108.34 312.7h0.6V324.7h-0.6zM108.93 319.9h0.6V324.7h-0.6zM109.52 319.9h0.6V320.7h-0.6zM110.10 320.7h0.6V334.1h-0.6zM110.69 334.1h0.6V355.0h-0.6zM111.28 355.0h0.6V360.6h-0.6zM111.86 360.6h0.6V368.0h-0.6zM112.45 368.0h0.6V386.4h-0.6zM113.04 386.4h0.6V396.4h-0.6zM113.62 396.4h0.6V403.6h-0.6zM114.21 391.3h0.6V403.6h-0.6zM114.80 391.3h0.6V402.0h-0.6zM115.38 402.0h0.6V424.6h-0.6zM115.97 424.6h0.6V434.8h-0.6zM116.56 415.4h0.6V434.8h-0.6zM117.14 412.5h0.6V415.4h-0.6zM117.73 402.7h0.6V412.5h-0.6zM118.32 393.9h0.6V402.7h-0.6zM118.90 393.9h0.6V431.1h-0.6zM119.49 431.1h0.6V436.4h-0.6zM120.08 431.8h0.6V436.4h-0.6zM120.66 431.8h0.6V453.2h-0.6zM121.25 429.6h0.6V453.2h-0.6zM121.83 429.6h0.6V450.4h-0.6zM122.42 450.4h0.6V455.4h-0.6zM123.01 436.5h0.6V455.4h-0.6zM123.59 436.5h0.6V442.7h-0.6zM124.18 442.7h0.6V454.5h-0.6zM124.77 454.5h0.6V468.4h-0.6zM125.35 462.2h0.6V468.4h-0.6zM125.94 462.2h0.6V465.8h-0.6zM126.53 465.8h0.6V514.8h-0.6zM127.11 504.3h0.6V514.8h-0.6zM127.70 504.3h0.6V533.1h-0.6zM128.29 533.1h0.6V568.2h-0.6zM128.87 568.2h0.6V589.5h-0.6zM129.46 573.9h0.6V589.5h-0.6zM130.05 573.9h0.6V598.6h-0.6zM130.63 581.9h0.6V598.6h-0.6zM131.22 579.0h0.6V581.9h-0.6zM131.81 579.0h0.6V602.8h-0.6zM132.39 579.3h0.6V602.8h-0.6zM132.98 579.3h0.6V594.4h-0.6zM133.57 562.6h0.6V594.4h-0.6zM134.15 562.6h0.6V576.8h-0.6zM134.74 569.7h0.6V576.8h-0.6zM135.33 560.3h0.6V569.7h-0.6zM135.91 540.7h0.6V560.3h-0.6zM136.50 540.7h0.6V569.3h-0.6zM137.09 569.2h0.6V570.0h-0.6zM137.67 562.2h0.6V569.9h-0.6zM138.26 558.2h0.6V562.2h-0.6zM138.85 556.2h0.6V558.2h-0.6zM139.43 542.7h0.6V556.2h-0.6zM140.02 517.2h0.6V542.7h-0.6zM140.61 479.3h0.6V517.2h-0.6zM141.19 456.7h0.6V479.3h-0.6zM141.78 456.7h0.6V459.7h-0.6zM142.37 447.5h0.6V459.7h-0.6zM142.95 447.5h0.6V448.3h-0.6zM143.54 448.3h0.6V468.5h-0.6zM144.13 468.5h0.6V476.6h-0.6zM144.71 457.6h0.6V476.6h-0.6zM145.30 457.6h0.6V487.1h-0.6zM145.89 479.1h0.6V487.1h-0.6zM146.47 479.1h0.6V484.0h-0.6zM147.06 458.2h0.6V484.0h-0.6zM147.65 449.7h0.6V458.2h-0.6zM148.23 449.7h0.6V475.0h-0.6zM148.82 475.0h0.6V488.6h-0.6zM149.41 456.4h0.6V488.6h-0.6zM149.99 456.4h0.6V484.3h-0.6zM150.58 484.3h0.6V502.8h-0.6zM151.16 488.0h0.6V502.8h-0.6zM151.75 488.0h0.6V496.7h-0.6zM152.34 496.7h0.6V498.4h-0.6zM152.92 481.6h0.6V498.4h-0.6zM153.51 467.5h0.6V481.6h-0.6zM154.10 436.0h0.6V467.5h-0.6zM154.68 436.0h0.6V441.9h-0.6zM155.27 441.9h0.6V443.4h-0.6zM155.86 439.2h0.6V443.4h-0.6zM156.44 439.2h0.6V450.5h-0.6zM157.03 446.4h0.6V450.5h-0.6zM157.62 432.6h0.6V446.4h-0.6zM158.20 432.6h0.6V433.6h-0.6zM158.79 433.6h0.6V451.2h-0.6zM159.38 436.0h0.6V451.2h-0.6zM159.96 436.0h0.6V452.1h-0.6zM160.55 452.1h0.6V453.7h-0.6zM161.14 453.7h0.6V458.6h-0.6zM161.72 450.3h0.6V458.6h-0.6zM162.31 450.3h0.6V460.5h-0.6zM162.90 458.3h0.6V460.5h-0.6zM163.48 441.5h0.6V458.3h-0.6zM164.07 433.3h0.6V441.5h-0.6zM164.66 430.9h0.6V433.3h-0.6zM165.24 430.9h0.6V434.6h-0.6zM165.83 418.2h0.6V434.6h-0.6zM166.42 412.7h0.6V418.2h-0.6zM167.00 412.7h0.6V427.7h-0.6zM167.59 427.7h0.6V429.6h-0.6zM168.18 419.0h0.6V429.6h-0.6zM168.76 419.0h0.6V422.7h-0.6zM169.35 422.7h0.6V443.8h-0.6zM169.94 439.8h0.6V443.8h-0.6zM170.52 439.8h0.6V441.8h-0.6zM171.11 440.6h0.6V441.8h-0.6zM171.70 433.7h0.6V440.6h-0.6zM172.28 424.8h0.6V433.7h-0.6zM172.87 424.8h0.6V439.8h-0.6zM173.46 438.5h0.6V439.8h-0.6zM174.04 438.5h0.6V448.4h-0.6zM174.63 440.7h0.6V448.4h-0.6zM175.22 440.7h0.6V456.9h-0.6zM175.80 456.9h0.6V478.6h-0.6zM176.39 478.6h0.6V484.7h-0.6zM176.98 454.1h0.6V484.7h-0.6zM177.56 454.1h0.6V478.6h-0.6zM178.15 478.6h0.6V479.8h-0.6zM178.74 477.8h0.6V479.8h-0.6zM179.32 477.8h0.6V482.4h-0.6zM179.91 479.8h0.6V482.4h-0.6zM180.49 479.1h0.6V479.9h-0.6zM181.08 479.1h0.6V495.8h-0.6zM181.67 459.3h0.6V495.8h-0.6zM182.25 444.6h0.6V459.3h-0.6zM182.84 444.6h0.6V445.9h-0.6zM183.43 445.7h0.6V446.5h-0.6zM184.01 441.5h0.6V446.2h-0.6zM184.60 423.2h0.6V441.5h-0.6zM185.19 410.2h0.6V423.2h-0.6zM185.77 410.2h0.6V412.0h-0.6zM186.36 412.0h0.6V428.7h-0.6zM186.95 428.1h0.6V428.9h-0.6zM187.53 428.3h0.6V432.5h-0.6zM188.12 432.5h0.6V452.7h-0.6zM188.71 434.7h0.6V452.7h-0.6zM189.29 434.7h0.6V439.0h-0.6zM189.88 438.0h0.6V439.0h-0.6zM190.47 438.0h0.6V455.5h-0.6zM191.05 455.5h0.6V479.1h-0.6zM191.64 479.1h0.6V494.5h-0.6zM192.23 487.3h0.6V494.5h-0.6zM192.81 487.3h0.6V491.4h-0.6zM193.40 491.4h0.6V497.3h-0.6zM193.99 493.1h0.6V497.3h-0.6zM194.57 490.4h0.6V493.1h-0.6zM195.16 490.4h0.6V499.8h-0.6zM195.75 489.0h0.6V499.8h-0.6zM196.33 484.6h0.6V489.0h-0.6zM196.92 484.6h0.6V491.9h-0.6zM197.51 491.9h0.6V496.6h-0.6zM198.09 496.6h0.6V498.6h-0.6zM198.68 498.6h0.6V515.7h-0.6zM199.27 512.6h0.6V515.7h-0.6zM199.85 493.5h0.6V512.6h-0.6zM200.44 493.5h0.6V500.0h-0.6zM201.03 500.0h0.6V506.8h-0.6zM201.61 496.7h0.6V506.8h-0.6zM202.20 496.7h0.6V498.9h-0.6zM202.79 497.2h0.6V498.9h-0.6zM203.37 497.2h0.6V522.2h-0.6zM203.96 522.2h0.6V528.3h-0.6zM204.55 520.0h0.6V528.3h-0.6zM205.13 518.6h0.6V520.0h-0.6zM205.72 518.6h0.6V547.2h-0.6zM206.31 539.6h0.6V547.2h-0.6zM206.89 539.6h0.6V560.7h-0.6zM207.48 544.2h0.6V560.7h-0.6zM208.07 544.2h0.6V563.2h-0.6zM208.65 555.3h0.6V563.2h-0.6zM209.24 554.7h0.6V555.5h-0.6zM209.82 554.2h0.6V555.0h-0.6zM210.41 554.4h0.6V560.8h-0.6zM211.00 549.6h0.6V560.8h-0.6zM211.58 549.6h0.6V564.4h-0.6zM212.17 552.9h0.6V564.4h-0.6zM212.76 552.9h0.6V553.8h-0.6zM213.34 542.5h0.6V553.8h-0.6zM213.93 534.5h0.6V542.5h-0.6zM214.52 534.5h0.6V546.4h-0.6zM215.10 542.0h0.6V546.4h-0.6zM215.69 540.7h0.6V542.0h-0.6zM216.28 537.8h0.6V540.7h-0.6zM216.86 535.0h0.6V537.8h-0.6zM217.45 535.0h0.6V536.5h-0.6zM218.04 536.5h0.6V539.0h-0.6zM218.62 531.9h0.6V539.0h-0.6zM219.21 531.9h0.6V537.3h-0.6zM219.80 531.3h0.6V537.3h-0.6zM220.38 530.5h0.6V531.3h-0.6zM220.97 528.3h0.6V530.5h-0.6zM221.56 528.3h0.6V530.6h-0.6zM222.14 521.4h0.6V530.6h-0.6zM222.73 521.4h0.6V530.4h-0.6zM223.32 530.4h0.6V539.9h-0.6zM223.90 539.9h0.6V547.8h-0.6zM224.49 547.8h0.6V557.4h-0.6zM225.08 549.4h0.6V557.4h-0.6zM225.66 549.4h0.6V591.7h-0.6zM226.25 568.1h0.6V591.7h-0.6zM226.84 560.0h0.6V568.1h-0.6zM227.42 560.0h0.6V562.5h-0.6zM228.01 562.5h0.6V567.5h-0.6zM228.60 564.7h0.6V567.5h-0.6zM229.18 564.7h0.6V568.1h-0.6zM229.77 552.3h0.6V568.1h-0.6zM230.36 552.3h0.6V556.1h-0.6zM230.94 554.2h0.6V556.1h-0.6zM231.53 548.4h0.6V554.2h-0.6zM232.12 548.4h0.6V550.3h-0.6zM232.70 550.3h0.6V555.4h-0.6zM233.29 555.0h0.6V555.8h-0.6zM233.88 555.4h0.6V559.8h-0.6zM234.46 545.2h0.6V559.8h-0.6zM235.05 545.2h0.6V546.7h-0.6zM235.64 542.5h0.6V546.7h-0.6zM236.22 542.5h0.6V547.9h-0.6zM236.81 543.2h0.6V547.9h-0.6zM237.40 537.4h0.6V543.2h-0.6zM237.98 501.7h0.6V537.4h-0.6zM238.57 477.1h0.6V501.7h-0.6zM239.15 470.6h0.6V477.1h-0.6zM239.74 470.6h0.6V479.0h-0.6zM240.33 470.4h0.6V479.0h-0.6zM240.91 470.4h0.6V474.4h-0.6zM241.50 474.4h0.6V479.7h-0.6zM242.09 474.7h0.6V479.7h-0.6zM242.67 472.0h0.6V474.7h-0.6zM243.26 471.6h0.6V472.4h-0.6zM243.85 472.0h0.6V473.5h-0.6zM244.43 473.5h0.6V477.7h-0.6zM245.02 476.4h0.6V477.7h-0.6zM245.61 470.3h0.6V476.4h-0.6zM246.19 465.3h0.6V470.3h-0.6zM246.78 465.3h0.6V473.9h-0.6zM247.37 461.9h0.6V473.9h-0.6zM247.95 453.4h0.6V461.9h-0.6zM248.54 453.4h0.6V460.2h-0.6zM249.13 460.2h0.6V466.1h-0.6zM249.71 457.9h0.6V466.1h-0.6zM250.30 441.5h0.6V457.9h-0.6zM250.89 441.5h0.6V447.5h-0.6zM251.47 447.5h0.6V450.0h-0.6zM252.06 443.7h0.6V450.0h-0.6zM252.65 443.7h0.6V446.4h-0.6zM253.23 446.4h0.6V456.8h-0.6zM253.82 455.6h0.6V456.8h-0.6zM254.41 445.2h0.6V455.6h-0.6zM254.99 445.2h0.6V450.8h-0.6zM255.58 448.1h0.6V450.8h-0.6zM256.17 445.7h0.6V448.1h-0.6zM256.75 445.7h0.6V447.8h-0.6zM257.34 447.8h0.6V453.5h-0.6zM257.93 453.5h0.6V473.2h-0.6zM258.51 457.7h0.6V473.2h-0.6zM259.10 457.7h0.6V461.2h-0.6zM259.69 455.0h0.6V461.2h-0.6zM260.27 455.0h0.6V463.0h-0.6zM260.86 450.1h0.6V463.0h-0.6zM261.45 447.8h0.6V450.1h-0.6zM262.03 440.9h0.6V447.8h-0.6zM262.62 440.9h0.6V459.6h-0.6zM263.21 450.5h0.6V459.6h-0.6zM263.79 450.5h0.6V461.5h-0.6zM264.38 461.5h0.6V479.2h-0.6zM264.97 479.2h0.6V500.0h-0.6zM265.55 484.1h0.6V500.0h-0.6zM266.14 484.1h0.6V501.8h-0.6zM266.73 501.8h0.6V514.7h-0.6zM267.31 514.7h0.6V532.8h-0.6zM267.90 532.8h0.6V554.6h-0.6zM268.48 549.7h0.6V554.6h-0.6zM269.07 534.9h0.6V549.7h-0.6zM269.66 534.9h0.6V541.5h-0.6zM270.24 540.2h0.6V541.5h-0.6zM270.83 536.9h0.6V540.2h-0.6zM271.42 536.9h0.6V543.1h-0.6zM272.00 533.0h0.6V543.1h-0.6zM272.59 533.0h0.6V535.4h-0.6zM273.18 535.4h0.6V551.5h-0.6zM273.76 533.5h0.6V551.5h-0.6zM274.35 533.5h0.6V540.3h-0.6zM274.94 539.3h0.6V540.3h-0.6zM275.52 532.9h0.6V539.3h-0.6zM276.11 532.9h0.6V534.1h-0.6zM276.70 534.0h0.6V534.8h-0.6zM277.28 531.6h0.6V534.6h-0.6zM277.87 531.6h0.6V534.1h-0.6zM278.46 534.1h0.6V536.1h-0.6zM279.04 530.2h0.6V536.1h-0.6zM279.63 530.2h0.6V532.8h-0.6zM280.22 527.6h0.6V532.8h-0.6zM280.80 527.3h0.6V528.1h-0.6zM281.39 527.8h0.6V528.6h-0.6zM281.98 524.0h0.6V528.6h-0.6zM282.56 524.0h0.6V536.1h-0.6zM283.15 526.8h0.6V536.1h-0.6zM283.74 526.8h0.6V530.2h-0.6zM284.32 524.0h0.6V530.2h-0.6zM284.91 516.1h0.6V524.0h-0.6zM285.50 516.1h0.6V520.2h-0.6zM286.08 520.2h0.6V522.7h-0.6zM286.67 518.5h0.6V522.7h-0.6zM287.26 512.9h0.6V518.5h-0.6zM287.84 512.9h0.6V521.6h-0.6zM288.43 521.6h0.6V527.8h-0.6zM289.02 522.0h0.6V527.8h-0.6zM289.60 522.0h0.6V531.4h-0.6zM290.19 531.4h0.6V539.3h-0.6zM290.78 537.7h0.6V539.3h-0.6zM291.36 534.7h0.6V537.7h-0.6zM291.95 534.7h0.6V542.2h-0.6zM292.54 539.5h0.6V542.2h-0.6zM293.12 536.7h0.6V539.5h-0.6zM293.71 536.7h0.6V539.4h-0.6zM294.30 521.8h0.6V539.4h-0.6zM294.88 521.8h0.6V530.3h-0.6zM295.47 517.5h0.6V530.3h-0.6zM296.06 517.5h0.6V523.4h-0.6zM296.64 510.5h0.6V523.4h-0.6zM297.23 509.3h0.6V510.5h-0.6zM297.81 508.8h0.6V509.6h-0.6zM298.40 509.2h0.6V521.5h-0.6zM298.99 515.0h0.6V521.5h-0.6zM299.57 515.0h0.6V515.8h-0.6zM300.16 515.8h0.6V519.6h-0.6zM300.75 512.5h0.6V519.6h-0.6zM301.33 511.7h0.6V512.5h-0.6zM301.92 511.7h0.6V523.3h-0.6zM302.51 518.6h0.6V523.3h-0.6zM303.09 517.8h0.6V518.6h-0.6zM303.68 513.5h0.6V517.8h-0.6zM304.27 511.8h0.6V513.5h-0.6zM304.85 509.9h0.6V511.8h-0.6zM305.44 509.9h0.6V518.1h-0.6zM306.03 518.1h0.6V519.4h-0.6zM306.61 513.3h0.6V519.4h-0.6zM307.20 513.3h0.6V524.3h-0.6zM307.79 503.6h0.6V524.3h-0.6zM308.37 503.6h0.6V522.3h-0.6zM308.96 522.3h0.6V533.1h-0.6zM309.55 526.0h0.6V533.1h-0.6zM310.13 526.0h0.6V536.6h-0.6zM310.72 536.6h0.6V553.4h-0.6zM311.31 553.4h0.6V560.5h-0.6zM311.89 558.5h0.6V560.5h-0.6zM312.48 550.1h0.6V558.5h-0.6zM313.07 550.1h0.6V552.3h-0.6zM313.65 546.9h0.6V552.3h-0.6zM314.24 546.9h0.6V553.9h-0.6zM314.83 542.0h0.6V553.9h-0.6zM315.41 542.0h0.6V546.0h-0.6zM316.00 539.0h0.6V546.0h-0.6zM316.59 539.0h0.6V544.5h-0.6zM317.17 531.2h0.6V544.5h-0.6zM317.76 531.2h0.6V537.9h-0.6zM318.35 534.8h0.6V537.9h-0.6zM318.93 534.6h0.6V535.4h-0.6zM319.52 535.1h0.6V537.6h-0.6zM320.11 537.6h0.6V547.6h-0.6zM320.69 547.4h0.6V548.2h-0.6zM321.28 547.9h0.6V552.4h-0.6zM321.87 552.4h0.6V559.9h-0.6zM322.45 559.9h0.6V577.3h-0.6zM323.04 555.4h0.6V577.3h-0.6zM323.63 555.3h0.6V556.1h-0.6zM324.21 555.9h0.6V564.8h-0.6zM324.80 557.4h0.6V564.8h-0.6zM325.39 555.9h0.6V557.4h-0.6zM325.97 555.9h0.6V558.4h-0.6zM326.56 558.4h0.6V563.2h-0.6zM327.14 562.5h0.6V563.3h-0.6zM327.73 555.6h0.6V562.6h-0.6zM328.32 555.1h0.6V555.9h-0.6zM328.90 551.7h0.6V555.5h-0.6zM329.49 550.9h0.6V551.7h-0.6zM330.08 550.3h0.6V551.1h-0.6zM330.66 545.4h0.6V550.5h-0.6zM331.25 545.4h0.6V549.6h-0.6zM331.84 549.6h0.6V564.7h-0.6zM332.42 551.5h0.6V564.7h-0.6zM333.01 551.5h0.6V552.7h-0.6zM333.60 547.0h0.6V552.7h-0.6zM334.18 544.3h0.6V547.0h-0.6zM334.77 544.3h0.6V548.2h-0.6zM335.36 548.2h0.6V559.7h-0.6zM335.94 559.7h0.6V566.3h-0.6zM336.53 562.3h0.6V566.3h-0.6zM337.12 552.6h0.6V562.3h-0.6zM337.70 547.1h0.6V552.6h-0.6zM338.29 532.9h0.6V547.1h-0.6zM338.88 532.9h0.6V542.6h-0.6zM339.46 535.5h0.6V542.6h-0.6zM340.05 535.5h0.6V542.5h-0.6zM340.64 542.5h0.6V543.5h-0.6zM341.22 540.1h0.6V543.5h-0.6zM341.81 540.1h0.6V543.0h-0.6zM342.40 540.4h0.6V543.0h-0.6zM342.98 540.4h0.6V546.2h-0.6zM343.57 543.2h0.6V546.2h-0.6zM344.16 543.2h0.6V545.9h-0.6zM344.74 541.0h0.6V545.9h-0.6zM345.33 541.0h0.6V544.3h-0.6zM345.92 543.1h0.6V544.3h-0.6zM346.50 541.7h0.6V543.1h-0.6zM347.09 541.6h0.6V542.4h-0.6zM347.68 538.0h0.6V542.2h-0.6zM348.26 536.7h0.6V538.0h-0.6zM348.85 527.3h0.6V536.7h-0.6zM349.44 525.2h0.6V527.3h-0.6zM350.02 525.2h0.6V533.7h-0.6zM350.61 532.2h0.6V533.7h-0.6zM351.20 525.2h0.6V532.2h-0.6zM351.78 525.2h0.6V526.9h-0.6zM352.37 524.7h0.6V526.9h-0.6zM352.96 524.7h0.6V529.6h-0.6zM353.54 526.7h0.6V529.6h-0.6zM354.13 526.7h0.6V531.3h-0.6zM354.72 531.3h0.6V532.4h-0.6zM355.30 532.4h0.6V534.6h-0.6zM355.89 529.5h0.6V534.6h-0.6zM356.47 529.5h0.6V532.0h-0.6zM357.06 531.4h0.6V532.2h-0.6zM357.65 531.6h0.6V536.6h-0.6zM358.23 534.0h0.6V536.6h-0.6zM358.82 533.1h0.6V534.0h-0.6zM359.41 533.1h0.6V534.2h-0.6zM359.99 534.2h0.6V537.0h-0.6zM360.58 534.8h0.6V537.0h-0.6zM361.17 534.8h0.6V539.9h-0.6zM361.75 530.0h0.6V539.9h-0.6zM362.34 530.0h0.6V535.2h-0.6zM362.93 535.2h0.6V537.9h-0.6zM363.51 537.9h0.6V551.3h-0.6zM364.10 550.9h0.6V551.7h-0.6zM364.69 539.2h0.6V551.4h-0.6zM365.27 539.2h0.6V554.1h-0.6zM365.86 549.7h0.6V554.1h-0.6zM366.45 549.7h0.6V562.0h-0.6zM367.03 561.5h0.6V562.3h-0.6zM367.62 561.1h0.6V561.9h-0.6zM368.21 548.9h0.6V561.2h-0.6zM368.79 548.8h0.6V549.6h-0.6zM369.38 549.6h0.6V563.6h-0.6zM369.97 553.5h0.6V563.6h-0.6zM370.55 553.5h0.6V556.8h-0.6zM371.14 556.8h0.6V603.6h-0.6zM371.73 603.6h0.6V608.1h-0.6zM372.31 604.1h0.6V608.1h-0.6zM372.90 604.1h0.6V612.6h-0.6zM373.49 612.6h0.6V619.7h-0.6zM374.07 609.2h0.6V619.7h-0.6zM374.66 605.4h0.6V609.2h-0.6zM375.25 588.7h0.6V605.4h-0.6zM375.83 587.7h0.6V588.7h-0.6zM376.42 587.7h0.6V592.0h-0.6zM377.01 592.0h0.6V593.6h-0.6zM377.59 574.2h0.6V593.6h-0.6zM378.18 574.2h0.6V589.0h-0.6zM378.77 574.4h0.6V589.0h-0.6zM379.35 574.4h0.6V613.3h-0.6zM379.94 613.3h0.6V620.8h-0.6zM380.53 611.8h0.6V620.8h-0.6zM381.11 611.8h0.6V625.8h-0.6zM381.70 615.3h0.6V625.8h-0.6zM382.29 615.1h0.6V615.9h-0.6zM382.87 615.6h0.6V625.1h-0.6zM383.46 617.9h0.6V625.1h-0.6zM384.05 617.9h0.6V621.3h-0.6zM384.63 621.3h0.6V627.0h-0.6zM385.22 627.0h0.6V633.6h-0.6zM385.80 633.6h0.6V644.2h-0.6zM386.39 630.6h0.6V644.2h-0.6zM386.98 630.6h0.6V649.8h-0.6zM387.56 649.4h0.6V650.2h-0.6zM388.15 646.2h0.6V649.8h-0.6zM388.74 643.8h0.6V646.2h-0.6zM389.32 643.8h0.6V646.6h-0.6zM389.91 643.3h0.6V646.6h-0.6zM390.50 643.3h0.6V644.1h-0.6zM391.08 644.1h0.6V655.0h-0.6zM391.67 648.5h0.6V655.0h-0.6zM392.26 648.0h0.6V648.8h-0.6zM392.84 641.3h0.6V648.3h-0.6zM393.43 638.7h0.6V641.3h-0.6zM394.02 636.0h0.6V638.7h-0.6zM394.60 633.6h0.6V636.0h-0.6zM395.19 621.9h0.6V633.6h-0.6zM395.78 621.9h0.6V634.4h-0.6zM396.36 629.9h0.6V634.4h-0.6zM396.95 629.3h0.6V630.1h-0.6zM397.54 624.5h0.6V629.5h-0.6zM398.12 621.3h0.6V624.5h-0.6zM398.71 614.9h0.6V621.3h-0.6zM399.30 600.5h0.6V614.9h-0.6zM399.88 579.7h0.6V600.5h-0.6zM400.47 579.7h0.6V585.1h-0.6zM401.06 585.1h0.6V602.7h-0.6zM401.64 599.1h0.6V602.7h-0.6zM402.23 577.9h0.6V599.1h-0.6zM402.82 577.9h0.6V591.1h-0.6zM403.40 588.8h0.6V591.1h-0.6zM403.99 578.6h0.6V588.8h-0.6zM404.58 566.1h0.6V578.6h-0.6zM405.16 552.7h0.6V566.1h-0.6zM405.75 552.7h0.6V555.0h-0.6zM406.34 514.2h0.6V555.0h-0.6zM406.92 514.2h0.6V526.0h-0.6zM407.51 486.1h0.6V526.0h-0.6zM408.10 469.4h0.6V486.1h-0.6zM408.68 469.4h0.6V474.6h-0.6zM409.27 474.6h0.6V476.0h-0.6zM409.86 465.7h0.6V476.0h-0.6zM410.44 462.4h0.6V465.7h-0.6zM411.03 462.3h0.6V463.1h-0.6zM411.62 459.4h0.6V463.0h-0.6zM412.20 459.4h0.6V460.5h-0.6zM412.79 450.7h0.6V460.5h-0.6zM413.38 450.7h0.6V457.7h-0.6zM413.96 457.7h0.6V465.1h-0.6zM414.55 465.1h0.6V478.2h-0.6zM415.13 471.8h0.6V478.2h-0.6zM415.72 466.1h0.6V471.8h-0.6zM416.31 466.1h0.6V470.3h-0.6zM416.89 470.3h0.6V473.3h-0.6zM417.48 465.7h0.6V473.3h-0.6zM418.07 457.8h0.6V465.7h-0.6zM418.65 457.8h0.6V469.5h-0.6zM419.24 457.1h0.6V469.5h-0.6zM419.83 457.1h0.6V469.6h-0.6zM420.41 469.6h0.6V471.2h-0.6zM421.00 471.2h0.6V472.6h-0.6zM421.59 472.6h0.6V489.6h-0.6zM422.17 489.6h0.6V493.1h-0.6zM422.76 493.1h0.6V500.4h-0.6zM423.35 497.7h0.6V500.4h-0.6zM423.93 491.7h0.6V497.7h-0.6zM424.52 491.7h0.6V503.3h-0.6zM425.11 489.9h0.6V503.3h-0.6zM425.69 489.9h0.6V492.0h-0.6zM426.28 492.0h0.6V495.2h-0.6zM426.87 495.2h0.6V497.1h-0.6zM427.45 497.1h0.6V498.3h-0.6zM428.04 485.4h0.6V498.3h-0.6zM428.63 477.4h0.6V485.4h-0.6zM429.21 477.4h0.6V480.8h-0.6zM429.80 480.8h0.6V487.6h-0.6zM430.39 484.6h0.6V487.6h-0.6zM430.97 484.6h0.6V495.7h-0.6zM431.56 495.7h0.6V499.4h-0.6zM432.15 499.4h0.6V506.3h-0.6zM432.73 506.3h0.6V517.5h-0.6zM433.32 515.5h0.6V517.5h-0.6zM433.91 515.5h0.6V536.8h-0.6zM434.49 536.8h0.6V554.6h-0.6zM435.08 554.6h0.6V561.7h-0.6zM435.67 561.7h0.6V563.2h-0.6zM436.25 559.3h0.6V563.2h-0.6zM436.84 559.3h0.6V569.0h-0.6zM437.43 569.0h0.6V570.1h-0.6zM438.01 570.1h0.6V580.1h-0.6zM438.60 569.2h0.6V580.1h-0.6zM439.19 567.8h0.6V569.2h-0.6zM439.77 567.8h0.6V584.0h-0.6zM440.36 575.1h0.6V584.0h-0.6zM440.95 568.5h0.6V575.1h-0.6zM441.53 567.7h0.6V568.5h-0.6zM442.12 567.7h0.6V571.8h-0.6zM442.71 571.8h0.6V580.7h-0.6zM443.29 580.6h0.6V581.4h-0.6zM443.88 574.8h0.6V581.2h-0.6zM444.46 574.8h0.6V589.1h-0.6zM445.05 589.1h0.6V628.6h-0.6zM445.64 604.3h0.6V628.6h-0.6zM446.22 604.3h0.6V617.4h-0.6zM446.81 617.4h0.6V628.8h-0.6zM447.40 606.1h0.6V628.8h-0.6zM447.98 589.3h0.6V606.1h-0.6zM448.57 579.6h0.6V589.3h-0.6zM449.16 579.6h0.6V587.8h-0.6zM449.74 573.5h0.6V587.8h-0.6zM450.33 559.0h0.6V573.5h-0.6zM450.92 559.0h0.6V567.1h-0.6zM451.50 537.6h0.6V567.1h-0.6zM452.09 537.6h0.6V549.4h-0.6zM452.68 542.2h0.6V549.4h-0.6zM453.26 531.0h0.6V542.2h-0.6zM453.85 526.7h0.6V531.0h-0.6zM454.44 514.0h0.6V526.7h-0.6zM455.02 514.0h0.6V515.9h-0.6zM455.61 494.4h0.6V515.9h-0.6zM456.20 494.4h0.6V500.6h-0.6zM456.78 500.6h0.6V518.2h-0.6zM457.37 494.1h0.6V518.2h-0.6zM457.96 494.1h0.6V498.3h-0.6zM458.54 498.3h0.6V509.1h-0.6zM459.13 509.1h0.6V525.9h-0.6zM459.72 523.9h0.6V525.9h-0.6zM460.30 512.2h0.6V523.9h-0.6zM460.89 512.2h0.6V515.4h-0.6zM461.48 515.4h0.6V522.9h-0.6zM462.06 522.9h0.6V524.4h-0.6zM462.65 519.3h0.6V524.4h-0.6zM463.24 519.3h0.6V524.7h-0.6zM463.82 524.3h0.6V525.1h-0.6zM464.41 508.5h0.6V524.7h-0.6zM465.00 508.5h0.6V515.0h-0.6zM465.58 515.0h0.6V533.4h-0.6zM466.17 533.4h0.6V552.7h-0.6zM466.76 549.0h0.6V552.7h-0.6zM467.34 534.3h0.6V549.0h-0.6zM467.93 534.3h0.6V540.7h-0.6zM468.52 530.1h0.6V540.7h-0.6zM469.10 530.1h0.6V536.5h-0.6zM469.69 536.5h0.6V541.8h-0.6zM470.28 541.8h0.6V546.1h-0.6zM470.86 536.6h0.6V546.1h-0.6zM471.45 526.5h0.6V536.6h-0.6zM472.04 526.5h0.6V550.3h-0.6zM472.62 543.4h0.6V550.3h-0.6zM473.21 543.4h0.6V547.3h-0.6zM473.79 547.3h0.6V551.3h-0.6zM474.38 551.3h0.6V553.7h-0.6zM474.97 546.9h0.6V553.7h-0.6zM475.55 546.9h0.6V561.8h-0.6zM476.14 557.2h0.6V561.8h-0.6zM476.73 551.6h0.6V557.2h-0.6zM477.31 514.8h0.6V551.6h-0.6zM477.90 484.4h0.6V514.8h-0.6zM478.49 473.3h0.6V484.4h-0.6zM479.07 472.8h0.6V473.6h-0.6zM479.66 473.1h0.6V487.1h-0.6zM480.25 476.2h0.6V487.1h-0.6zM480.83 473.2h0.6V476.2h-0.6zM481.42 472.7h0.6V473.5h-0.6zM482.01 472.9h0.6V489.6h-0.6zM482.59 489.6h0.6V492.5h-0.6zM483.18 492.5h0.6V498.4h-0.6zM483.77 498.3h0.6V499.1h-0.6zM484.35 499.0h0.6V509.2h-0.6zM484.94 509.2h0.6V513.4h-0.6zM485.53 501.5h0.6V513.4h-0.6zM486.11 501.5h0.6V508.9h-0.6zM486.70 508.9h0.6V515.9h-0.6zM487.29 515.9h0.6V521.0h-0.6zM487.87 517.3h0.6V521.0h-0.6zM488.46 517.3h0.6V539.4h-0.6zM489.05 539.4h0.6V553.0h-0.6zM489.63 530.0h0.6V553.0h-0.6zM490.22 528.5h0.6V530.0h-0.6zM490.81 528.5h0.6V541.7h-0.6zM491.39 541.7h0.6V542.9h-0.6zM491.98 540.8h0.6V542.9h-0.6zM492.57 540.8h0.6V542.9h-0.6zM493.15 524.5h0.6V542.9h-0.6zM493.74 517.0h0.6V524.5h-0.6zM494.33 517.0h0.6V525.3h-0.6zM494.91 521.8h0.6V525.3h-0.6zM495.50 521.8h0.6V532.8h-0.6zM496.09 520.8h0.6V532.8h-0.6zM496.67 520.1h0.6V520.9h-0.6zM497.26 520.1h0.6V539.4h-0.6zM497.85 539.3h0.6V540.1h-0.6zM498.43 521.4h0.6V540.0h-0.6zM499.02 521.4h0.6V535.9h-0.6zM499.61 535.9h0.6V551.9h-0.6zM500.19 542.5h0.6V551.9h-0.6zM500.78 520.5h0.6V542.5h-0.6zM501.37 517.6h0.6V520.5h-0.6zM501.95 489.6h0.6V517.6h-0.6zM502.54 450.9h0.6V489.6h-0.6zM503.12 450.9h0.6V466.6h-0.6zM503.71 466.6h0.6V468.6h-0.6zM504.30 440.5h0.6V468.6h-0.6zM504.88 429.9h0.6V440.5h-0.6zM505.47 414.6h0.6V429.9h-0.6zM506.06 414.6h0.6V422.6h-0.6zM506.64 403.9h0.6V422.6h-0.6zM507.23 391.4h0.6V403.9h-0.6zM507.82 391.4h0.6V407.2h-0.6zM508.40 402.6h0.6V407.2h-0.6zM508.99 393.7h0.6V402.6h-0.6zM509.58 393.7h0.6V399.3h-0.6zM510.16 399.3h0.6V420.7h-0.6zM510.75 411.3h0.6V420.7h-0.6zM511.34 411.3h0.6V424.0h-0.6zM511.92 416.7h0.6V424.0h-0.6zM512.51 416.7h0.6V421.2h-0.6zM513.10 411.9h0.6V421.2h-0.6zM513.68 411.9h0.6V426.1h-0.6zM514.27 413.0h0.6V426.1h-0.6zM514.86 412.7h0.6V413.5h-0.6zM515.44 413.2h0.6V426.2h-0.6zM516.03 423.2h0.6V426.2h-0.6zM516.62 417.1h0.6V423.2h-0.6zM517.20 407.8h0.6V417.1h-0.6zM517.79 407.8h0.6V419.4h-0.6zM518.38 402.6h0.6V419.4h-0.6zM518.96 402.6h0.6V426.2h-0.6zM519.55 426.2h0.6V427.7h-0.6zM520.14 427.7h0.6V442.3h-0.6zM520.72 442.3h0.6V450.5h-0.6zM521.31 450.5h0.6V461.8h-0.6zM521.90 461.8h0.6V464.7h-0.6zM522.48 457.6h0.6V464.7h-0.6zM523.07 457.6h0.6V462.3h-0.6zM523.66 459.0h0.6V462.3h-0.6zM524.24 448.2h0.6V459.0h-0.6zM524.83 448.2h0.6V452.1h-0.6zM525.42 451.5h0.6V452.3h-0.6zM526.00 451.8h0.6V458.8h-0.6zM526.59 451.9h0.6V458.8h-0.6zM527.18 451.3h0.6V452.1h-0.6zM527.76 451.6h0.6V455.3h-0.6zM528.35 455.3h0.6V466.9h-0.6zM528.94 451.9h0.6V466.9h-0.6zM529.52 451.9h0.6V462.4h-0.6zM530.11 456.1h0.6V462.4h-0.6zM530.70 456.1h0.6V474.7h-0.6zM531.28 468.9h0.6V474.7h-0.6zM531.87 468.6h0.6V469.4h-0.6zM532.45 469.0h0.6V475.5h-0.6zM533.04 475.5h0.6V489.9h-0.6zM533.63 489.9h0.6V505.5h-0.6zM534.21 505.5h0.6V511.1h-0.6zM534.80 511.1h0.6V532.8h-0.6zM535.39 524.5h0.6V532.8h-0.6zM535.97 524.5h0.6V531.6h-0.6zM536.56 531.6h0.6V534.7h-0.6zM537.15 530.7h0.6V534.7h-0.6zM537.73 530.7h0.6V535.1h-0.6zM538.32 523.3h0.6V535.1h-0.6zM538.91 523.3h0.6V527.8h-0.6zM539.49 527.4h0.6V528.2h-0.6zM540.08 527.0h0.6V527.8h-0.6zM540.67 527.0h0.6V527.8h-0.6zM541.25 524.0h0.6V527.8h-0.6zM541.84 521.4h0.6V524.0h-0.6zM542.43 518.5h0.6V521.4h-0.6zM543.01 518.5h0.6V528.9h-0.6zM543.60 522.9h0.6V528.9h-0.6zM544.19 522.9h0.6V531.2h-0.6zM544.77 523.4h0.6V531.2h-0.6zM545.36 523.4h0.6V527.8h-0.6zM545.95 527.8h0.6V531.0h-0.6zM546.53 527.8h0.6V531.0h-0.6zM547.12 527.8h0.6V530.4h-0.6zM547.71 527.9h0.6V530.4h-0.6zM548.29 527.9h0.6V531.8h-0.6zM548.88 531.8h0.6V539.1h-0.6zM549.47 538.5h0.6V539.3h-0.6zM550.05 538.2h0.6V539.0h-0.6zM550.64 538.5h0.6V548.1h-0.6zM551.23 538.2h0.6V548.1h-0.6zM551.81 538.2h0.6V551.3h-0.6zM552.40 543.1h0.6V551.3h-0.6zM552.99 540.0h0.6V543.1h-0.6zM553.57 540.0h0.6V543.9h-0.6zM554.16 543.9h0.6V550.8h-0.6zM554.75 550.8h0.6V552.4h-0.6zM555.33 552.4h0.6V565.1h-0.6zM555.92 560.9h0.6V565.1h-0.6zM556.51 550.2h0.6V560.9h-0.6zM557.09 545.4h0.6V550.2h-0.6zM557.68 545.4h0.6V551.7h-0.6zM558.27 551.7h0.6V554.2h-0.6zM558.85 550.5h0.6V554.2h-0.6zM559.44 546.1h0.6V550.5h-0.6zM560.03 546.1h0.6V551.4h-0.6zM560.61 551.4h0.6V563.6h-0.6zM561.20 562.3h0.6V563.6h-0.6zM561.78 554.0h0.6V562.3h-0.6zM562.37 554.0h0.6V565.5h-0.6zM562.96 562.0h0.6V565.5h-0.6zM563.54 555.6h0.6V562.0h-0.6zM564.13 555.6h0.6V560.4h-0.6zM564.72 556.2h0.6V560.4h-0.6zM565.30 550.8h0.6V556.2h-0.6zM565.89 549.6h0.6V550.8h-0.6zM566.48 549.6h0.6V561.2h-0.6zM567.06 559.7h0.6V561.2h-0.6zM567.65 557.8h0.6V559.7h-0.6zM568.24 549.1h0.6V557.8h-0.6zM568.82 548.9h0.6V549.7h-0.6zM569.41 523.1h0.6V549.5h-0.6zM570.00 516.4h0.6V523.1h-0.6zM570.58 516.4h0.6V525.8h-0.6zM571.17 505.0h0.6V525.8h-0.6zM571.76 505.0h0.6V524.3h-0.6zM572.34 514.2h0.6V524.3h-0.6zM572.93 503.6h0.6V514.2h-0.6zM573.52 502.9h0.6V503.7h-0.6zM574.10 503.0h0.6V507.1h-0.6zM574.69 498.9h0.6V507.1h-0.6zM575.28 498.4h0.6V499.2h-0.6zM575.86 485.5h0.6V498.6h-0.6zM576.45 485.5h0.6V492.9h-0.6zM577.04 490.9h0.6V492.9h-0.6zM577.62 484.1h0.6V490.9h-0.6zM578.21 484.1h0.6V485.3h-0.6zM578.80 485.3h0.6V495.0h-0.6zM579.38 494.5h0.6V495.3h-0.6zM579.97 494.9h0.6V507.8h-0.6zM580.56 507.8h0.6V509.4h-0.6zM581.14 505.3h0.6V509.4h-0.6zM581.73 489.2h0.6V505.3h-0.6zM582.32 488.7h0.6V489.5h-0.6zM582.90 485.4h0.6V489.1h-0.6zM583.49 485.4h0.6V496.9h-0.6zM584.08 480.0h0.6V496.9h-0.6zM584.66 480.0h0.6V483.5h-0.6zM585.25 483.5h0.6V484.3h-0.6zM585.84 478.6h0.6V484.3h-0.6zM586.42 478.6h0.6V480.6h-0.6zM587.01 472.8h0.6V480.6h-0.6zM587.60 463.3h0.6V472.8h-0.6zM588.18 463.3h0.6V467.5h-0.6zM588.77 467.5h0.6V485.4h-0.6zM589.36 474.2h0.6V485.4h-0.6zM589.94 459.9h0.6V474.2h-0.6zM590.53 459.9h0.6V471.7h-0.6zM591.11 458.6h0.6V471.7h-0.6zM591.70 458.6h0.6V470.5h-0.6zM592.29 470.5h0.6V479.3h-0.6zM592.87 479.0h0.6V479.8h-0.6zM593.46 477.5h0.6V479.5h-0.6zM594.05 477.5h0.6V488.4h-0.6zM594.63 486.4h0.6V488.4h-0.6zM595.22 486.4h0.6V487.3h-0.6zM595.81 487.3h0.6V490.6h-0.6zM596.39 484.6h0.6V490.6h-0.6zM596.98 484.6h0.6V486.2h-0.6zM597.57 486.2h0.6V495.2h-0.6zM598.15 495.2h0.6V498.8h-0.6zM598.74 496.9h0.6V498.8h-0.6zM599.33 491.7h0.6V496.9h-0.6zM599.91 491.7h0.6V498.1h-0.6zM600.50 491.6h0.6V498.1h-0.6zM601.09 488.8h0.6V491.6h-0.6zM601.67 474.3h0.6V488.8h-0.6zM602.26 474.3h0.6V477.9h-0.6zM602.85 458.8h0.6V477.9h-0.6zM603.43 458.8h0.6V468.1h-0.6zM604.02 454.3h0.6V468.1h-0.6zM604.61 454.3h0.6V461.2h-0.6zM605.19 456.0h0.6V461.2h-0.6zM605.78 456.0h0.6V467.1h-0.6zM606.37 463.6h0.6V467.1h-0.6zM606.95 454.6h0.6V463.6h-0.6zM607.54 454.6h0.6V459.8h-0.6zM608.13 459.8h0.6V467.9h-0.6zM608.71 467.9h0.6V473.9h-0.6zM609.30 473.9h0.6V480.3h-0.6zM609.89 480.3h0.6V482.9h-0.6zM610.47 482.9h0.6V484.5h-0.6zM611.06 484.5h0.6V493.6h-0.6zM611.65 493.2h0.6V494.0h-0.6zM612.23 489.4h0.6V493.5h-0.6zM612.82 483.5h0.6V489.4h-0.6zM613.41 483.5h0.6V484.7h-0.6zM613.99 481.8h0.6V484.7h-0.6zM614.58 477.1h0.6V481.8h-0.6zM615.17 471.0h0.6V477.1h-0.6zM615.75 461.3h0.6V471.0h-0.6zM616.34 460.8h0.6V461.6h-0.6zM616.93 461.0h0.6V471.6h-0.6zM617.51 462.3h0.6V471.6h-0.6zM618.10 462.3h0.6V465.7h-0.6zM618.69 465.7h0.6V471.3h-0.6zM619.27 457.5h0.6V471.3h-0.6zM619.86 457.5h0.6V467.5h-0.6zM620.44 461.7h0.6V467.5h-0.6zM621.03 461.7h0.6V468.0h-0.6zM621.62 449.4h0.6V468.0h-0.6zM622.20 439.8h0.6V449.4h-0.6zM622.79 425.4h0.6V439.8h-0.6zM623.38 419.6h0.6V425.4h-0.6zM623.96 418.4h0.6V419.6h-0.6zM624.55 418.3h0.6V419.1h-0.6zM625.14 419.1h0.6V431.8h-0.6zM625.72 424.3h0.6V431.8h-0.6zM626.31 424.3h0.6V426.1h-0.6zM626.90 425.6h0.6V426.4h-0.6zM627.48 424.6h0.6V426.0h-0.6zM628.07 424.6h0.6V431.1h-0.6zM628.66 420.8h0.6V431.1h-0.6zM629.24 420.8h0.6V422.3h-0.6zM629.83 422.0h0.6V422.8h-0.6zM630.42 419.8h0.6V422.5h-0.6zM631.00 419.8h0.6V423.4h-0.6zM631.59 423.4h0.6V430.1h-0.6zM632.18 418.8h0.6V430.1h-0.6zM632.76 409.2h0.6V418.8h-0.6zM633.35 409.2h0.6V420.3h-0.6zM633.94 419.2h0.6V420.3h-0.6zM634.52 419.2h0.6V426.4h-0.6zM635.11 426.4h0.6V446.8h-0.6zM635.70 439.5h0.6V446.8h-0.6zM636.28 435.8h0.6V439.5h-0.6zM636.87 435.8h0.6V451.2h-0.6zM637.46 450.9h0.6V451.7h-0.6zM638.04 445.1h0.6V451.4h-0.6zM638.63 440.2h0.6V445.1h-0.6zM639.22 438.6h0.6V440.2h-0.6zM639.80 438.6h0.6V444.7h-0.6zM640.39 444.7h0.6V452.1h-0.6zM640.98 451.0h0.6V452.1h-0.6zM641.56 451.0h0.6V461.9h-0.6zM642.15 448.6h0.6V461.9h-0.6zM642.74 448.6h0.6V460.0h-0.6zM643.32 460.0h0.6V462.0h-0.6zM643.91 453.2h0.6V462.0h-0.6zM644.50 453.2h0.6V454.4h-0.6zM645.08 454.4h0.6V459.8h-0.6zM645.67 450.9h0.6V459.8h-0.6zM646.26 450.9h0.6V463.0h-0.6zM646.84 458.2h0.6V463.0h-0.6zM647.43 458.2h0.6V460.1h-0.6zM648.02 450.3h0.6V460.1h-0.6zM648.60 444.9h0.6V450.3h-0.6zM649.19 444.9h0.6V449.5h-0.6zM649.77 446.6h0.6V449.5h-0.6zM650.36 441.5h0.6V446.6h-0.6zM650.95 441.5h0.6V444.7h-0.6zM651.53 444.7h0.6V447.9h-0.6zM652.12 440.2h0.6V447.9h-0.6zM652.71 435.1h0.6V440.2h-0.6zM653.29 435.1h0.6V448.6h-0.6zM653.88 448.1h0.6V448.9h-0.6zM654.47 435.2h0.6V448.4h-0.6zM655.05 435.2h0.6V444.6h-0.6zM655.64 443.1h0.6V444.6h-0.6zM656.23 439.4h0.6V443.1h-0.6zM656.81 424.3h0.6V439.4h-0.6zM657.40 424.3h0.6V439.9h-0.6zM657.99 428.5h0.6V439.9h-0.6zM658.57 425.0h0.6V428.5h-0.6zM659.16 425.0h0.6V437.2h-0.6zM659.75 436.6h0.6V437.4h-0.6zM660.33 435.1h0.6V436.9h-0.6zM660.92 435.1h0.6V445.3h-0.6zM661.51 413.4h0.6V445.3h-0.6zM662.09 413.4h0.6V438.4h-0.6zM662.68 436.9h0.6V438.4h-0.6zM663.27 418.2h0.6V436.9h-0.6zM663.85 417.9h0.6V418.7h-0.6zM664.44 388.3h0.6V418.4h-0.6zM665.03 380.4h0.6V388.3h-0.6zM665.61 363.5h0.6V380.4h-0.6zM666.20 352.4h0.6V363.5h-0.6zM666.79 352.4h0.6V363.8h-0.6zM667.37 337.7h0.6V363.8h-0.6zM667.96 299.9h0.6V337.7h-0.6zM668.55 299.9h0.6V326.6h-0.6zM669.13 308.6h0.6V326.6h-0.6zM669.72 308.6h0.6V311.0h-0.6zM670.31 311.0h0.6V322.1h-0.6zM670.89 307.9h0.6V322.1h-0.6zM671.48 307.8h0.6V308.6h-0.6zM672.07 306.5h0.6V308.5h-0.6zM672.65 306.5h0.6V309.8h-0.6zM673.24 306.7h0.6V309.8h-0.6zM673.83 301.7h0.6V306.7h-0.6zM674.41 292.7h0.6V301.7h-0.6zM675.00 292.7h0.6V293.9h-0.6zM675.59 289.7h0.6V293.9h-0.6zM676.17 267.7h0.6V289.7h-0.6zM676.76 264.1h0.6V267.7h-0.6zM677.35 253.0h0.6V264.1h-0.6zM677.93 242.9h0.6V253.0h-0.6zM678.52 242.9h0.6V248.8h-0.6zM679.10 232.2h0.6V248.8h-0.6zM679.69 232.2h0.6V245.8h-0.6zM680.28 244.7h0.6V245.8h-0.6zM680.86 239.9h0.6V244.7h-0.6zM681.45 239.9h0.6V260.2h-0.6zM682.04 253.5h0.6V260.2h-0.6zM682.62 253.5h0.6V261.8h-0.6zM683.21 261.8h0.6V270.1h-0.6zM683.80 270.1h0.6V279.1h-0.6zM684.38 264.4h0.6V279.1h-0.6zM684.97 264.4h0.6V279.0h-0.6zM685.56 270.7h0.6V279.0h-0.6zM686.14 270.7h0.6V280.2h-0.6zM686.73 273.4h0.6V280.2h-0.6zM687.32 258.8h0.6V273.4h-0.6zM687.90 257.9h0.6V258.8h-0.6zM688.49 257.8h0.6V258.6h-0.6zM689.08 258.6h0.6V261.1h-0.6zM689.66 261.1h0.6V265.8h-0.6zM690.25 263.6h0.6V265.8h-0.6zM690.84 263.6h0.6V266.7h-0.6zM691.42 254.7h0.6V266.7h-0.6zM692.01 254.7h0.6V262.8h-0.6zM692.60 262.8h0.6V265.8h-0.6zM693.18 254.0h0.6V265.8h-0.6zM693.77 254.0h0.6V272.8h-0.6zM694.36 258.1h0.6V272.8h-0.6zM694.94 254.6h0.6V258.1h-0.6zM695.53 254.6h0.6V265.4h-0.6zM696.12 258.5h0.6V265.4h-0.6zM696.70 258.5h0.6V261.7h-0.6zM697.29 261.7h0.6V266.8h-0.6zM697.88 266.8h0.6V269.8h-0.6zM698.46 269.8h0.6V273.4h-0.6zM699.05 267.8h0.6V273.4h-0.6zM699.64 267.8h0.6V270.2h-0.6zM700.22 270.2h0.6V280.3h-0.6zM700.81 280.3h0.6V298.5h-0.6zM701.40 298.5h0.6V331.7h-0.6zM701.98 331.7h0.6V360.8h-0.6zM702.57 360.8h0.6V371.9h-0.6zM703.16 371.9h0.6V378.9h-0.6zM703.74 359.1h0.6V378.9h-0.6zM704.33 359.1h0.6V377.7h-0.6zM704.92 368.9h0.6V377.7h-0.6zM705.50 367.7h0.6V368.9h-0.6zM706.09 359.9h0.6V367.7h-0.6zM706.68 359.9h0.6V363.5h-0.6zM707.26 363.5h0.6V372.0h-0.6zM707.85 370.4h0.6V372.0h-0.6zM708.43 370.2h0.6V371.0h-0.6zM709.02 370.8h0.6V375.3h-0.6zM709.61 371.0h0.6V375.3h-0.6zM710.19 358.8h0.6V371.0h-0.6zM710.78 358.8h0.6V371.4h-0.6zM711.37 371.4h0.6V379.7h-0.6zM711.95 376.8h0.6V379.7h-0.6zM712.54 376.8h0.6V387.2h-0.6zM713.13 387.2h0.6V390.5h-0.6zM713.71 390.5h0.6V394.8h-0.6zM714.30 393.3h0.6V394.8h-0.6zM714.89 391.4h0.6V393.3h-0.6zM715.47 391.4h0.6V419.9h-0.6zM716.06 419.9h0.6V425.8h-0.6zM716.65 425.8h0.6V432.8h-0.6zM717.23 421.8h0.6V432.8h-0.6zM717.82 414.8h0.6V421.8h-0.6zM718.41 414.8h0.6V422.2h-0.6zM718.99 411.1h0.6V422.2h-0.6zM719.58 410.4h0.6V411.2h-0.6zM720.17 410.6h0.6V411.5h-0.6zM720.75 401.8h0.6V411.5h-0.6zM721.34 397.9h0.6V401.8h-0.6zM721.93 397.9h0.6V403.6h-0.6zM722.51 401.4h0.6V403.6h-0.6zM723.10 395.5h0.6V401.4h-0.6zM723.69 395.5h0.6V408.5h-0.6zM724.27 405.7h0.6V408.5h-0.6zM724.86 405.3h0.6V406.1h-0.6zM725.45 401.8h0.6V405.7h-0.6zM726.03 401.8h0.6V405.5h-0.6zM726.62 405.5h0.6V409.8h-0.6zM727.21 398.3h0.6V409.8h-0.6zM727.79 398.3h0.6V407.9h-0.6zM728.38 405.3h0.6V407.9h-0.6zM728.97 401.4h0.6V405.3h-0.6zM729.55 401.4h0.6V417.4h-0.6zM730.14 410.3h0.6V417.4h-0.6zM730.73 408.1h0.6V410.3h-0.6zM731.31 408.1h0.6V422.3h-0.6zM731.90 422.3h0.6V424.6h-0.6zM732.49 421.6h0.6V424.6h-0.6zM733.07 409.4h0.6V421.6h-0.6zM733.66 409.4h0.6V410.2h-0.6zM734.25 407.9h0.6V410.2h-0.6zM734.83 403.3h0.6V407.9h-0.6zM735.42 391.6h0.6V403.3h-0.6zM736.01 391.6h0.6V395.1h-0.6zM736.59 394.4h0.6V395.2h-0.6zM737.18 394.5h0.6V400.3h-0.6zM737.76 400.3h0.6V401.6h-0.6zM738.35 399.6h0.6V401.6h-0.6zM738.94 398.2h0.6V399.6h-0.6zM739.52 396.6h0.6V398.2h-0.6zM740.11 396.6h0.6V397.6h-0.6zM740.70 397.6h0.6V402.6h-0.6zM741.28 395.4h0.6V402.6h-0.6zM741.87 395.3h0.6V396.1h-0.6zM742.46 394.3h0.6V395.9h-0.6zM743.04 394.3h0.6V399.6h-0.6zM743.63 393.5h0.6V399.6h-0.6zM744.22 393.0h0.6V393.8h-0.6zM744.80 393.2h0.6V394.4h-0.6zM745.39 394.4h0.6V399.2h-0.6zM745.98 399.2h0.6V401.8h-0.6zM746.56 399.8h0.6V401.8h-0.6zM747.15 399.7h0.6V400.5h-0.6zM747.74 398.3h0.6V400.5h-0.6zM748.32 398.3h0.6V404.2h-0.6zM748.91 404.2h0.6V405.6h-0.6zM749.50 405.6h0.6V415.3h-0.6zM750.08 415.3h0.6V419.0h-0.6zM750.67 419.0h0.6V446.6h-0.6zM751.26 446.6h0.6V449.8h-0.6zM751.84 440.2h0.6V449.8h-0.6zM752.43 423.8h0.6V440.2h-0.6zM753.02 423.8h0.6V437.8h-0.6zM753.60 429.0h0.6V437.8h-0.6zM754.19 429.0h0.6V435.1h-0.6zM754.78 435.1h0.6V440.1h-0.6zM755.36 440.1h0.6V450.8h-0.6zM755.95 450.8h0.6V453.4h-0.6zM756.54 453.4h0.6V457.2h-0.6zM757.12 457.2h0.6V458.7h-0.6zM757.71 452.0h0.6V458.7h-0.6zM758.30 452.0h0.6V460.1h-0.6zM758.88 453.4h0.6V460.1h-0.6zM759.47 453.3h0.6V454.1h-0.6zM760.06 454.0h0.6V459.3h-0.6zM760.64 459.1h0.6V459.9h-0.6zM761.23 459.3h0.6V460.1h-0.6zM761.82 459.7h0.6V464.4h-0.6zM762.40 464.4h0.6V477.1h-0.6zM762.99 462.5h0.6V477.1h-0.6zM763.58 462.5h0.6V480.8h-0.6zM764.16 477.2h0.6V480.8h-0.6zM764.75 477.2h0.6V479.5h-0.6zM765.34 462.3h0.6V479.5h-0.6zM765.92 462.3h0.6V481.1h-0.6zM766.51 468.4h0.6V481.1h-0.6zM767.09 468.4h0.6V487.7h-0.6zM767.68 481.9h0.6V487.7h-0.6zM768.27 474.4h0.6V481.9h-0.6zM768.85 474.4h0.6V481.8h-0.6zM769.44 475.7h0.6V481.8h-0.6zM770.03 464.9h0.6V475.7h-0.6zM770.61 464.9h0.6V470.4h-0.6zM771.20 426.1h0.6V470.4h-0.6zM771.79 372.8h0.6V426.1h-0.6zM772.37 372.8h0.6V373.6h-0.6zM772.96 373.6h0.6V385.2h-0.6zM773.55 385.2h0.6V390.4h-0.6zM774.13 390.4h0.6V398.8h-0.6zM774.72 398.8h0.6V400.0h-0.6zM775.31 389.2h0.6V400.0h-0.6zM775.89 389.2h0.6V391.7h-0.6zM776.48 391.7h0.6V399.2h-0.6zM777.07 399.2h0.6V400.4h-0.6zM777.65 400.4h0.6V402.6h-0.6zM778.24 402.6h0.6V404.6h-0.6zM778.83 404.2h0.6V405.0h-0.6zM779.41 404.7h0.6V414.9h-0.6zM780.00 407.0h0.6V414.9h-0.6zM780.59 407.0h0.6V409.5h-0.6zM781.17 399.6h0.6V409.5h-0.6zM781.76 399.6h0.6V405.0h-0.6zM782.35 404.3h0.6V405.1h-0.6zM782.93 390.9h0.6V404.4h-0.6zM783.52 390.9h0.6V401.5h-0.6zM784.11 400.6h0.6V401.5h-0.6zM784.69 392.4h0.6V400.6h-0.6zM785.28 391.8h0.6V392.6h-0.6zM785.87 391.6h0.6V392.4h-0.6zM786.45 392.1h0.6V399.4h-0.6zM787.04 399.4h0.6V410.5h-0.6zM787.63 408.3h0.6V410.5h-0.6zM788.21 408.3h0.6V412.7h-0.6zM788.80 412.7h0.6V413.5h-0.6zM789.39 413.4h0.6V425.4h-0.6zM789.97 413.5h0.6V425.4h-0.6zM790.56 410.5h0.6V413.5h-0.6zM791.15 410.0h0.6V410.8h-0.6zM791.73 406.3h0.6V410.3h-0.6zM792.32 396.4h0.6V406.3h-0.6zM792.91 393.7h0.6V396.4h-0.6zM793.49 387.2h0.6V393.7h-0.6zM794.08 387.2h0.6V389.9h-0.6zM794.67 389.9h0.6V394.4h-0.6zM795.25 388.9h0.6V394.4h-0.6zM795.84 385.5h0.6V388.9h-0.6zM796.42 380.4h0.6V385.5h-0.6zM797.01 373.4h0.6V380.4h-0.6zM797.60 373.4h0.6V387.9h-0.6zM798.18 374.8h0.6V387.9h-0.6zM798.77 367.0h0.6V374.8h-0.6zM799.36 367.0h0.6V369.6h-0.6zM799.94 369.6h0.6V394.6h-0.6zM800.53 378.8h0.6V394.6h-0.6zM801.12 378.8h0.6V381.0h-0.6zM801.70 381.0h0.6V384.4h-0.6zM802.29 378.7h0.6V384.4h-0.6zM802.88 378.7h0.6V397.8h-0.6zM803.46 394.5h0.6V397.8h-0.6zM804.05 391.5h0.6V394.5h-0.6zM804.64 386.6h0.6V391.5h-0.6zM805.22 386.6h0.6V392.7h-0.6zM805.81 392.7h0.6V394.2h-0.6zM806.40 393.6h0.6V394.4h-0.6zM806.98 393.8h0.6V394.9h-0.6zM807.57 394.9h0.6V407.2h-0.6zM808.16 398.8h0.6V407.2h-0.6zM808.74 398.8h0.6V416.4h-0.6zM809.33 412.3h0.6V416.4h-0.6zM809.92 412.3h0.6V424.5h-0.6zM810.50 424.5h0.6V430.6h-0.6zM811.09 424.3h0.6V430.6h-0.6zM811.68 424.3h0.6V429.4h-0.6zM812.26 429.4h0.6V450.9h-0.6zM812.85 442.5h0.6V450.9h-0.6zM813.44 442.5h0.6V456.3h-0.6zM814.02 456.3h0.6V459.2h-0.6zM814.61 453.1h0.6V459.2h-0.6zM815.20 453.1h0.6V455.9h-0.6zM815.78 455.9h0.6V465.4h-0.6zM816.37 465.4h0.6V467.1h-0.6zM816.96 466.5h0.6V467.3h-0.6zM817.54 466.7h0.6V473.6h-0.6zM818.13 473.6h0.6V478.5h-0.6zM818.72 467.1h0.6V478.5h-0.6zM819.30 466.4h0.6V467.2h-0.6zM819.89 456.8h0.6V466.5h-0.6zM820.48 456.8h0.6V458.6h-0.6zM821.06 458.6h0.6V468.7h-0.6zM821.65 468.7h0.6V472.9h-0.6zM822.24 472.5h0.6V473.3h-0.6zM822.82 472.5h0.6V473.3h-0.6zM823.41 469.8h0.6V472.9h-0.6zM824.00 463.5h0.6V469.8h-0.6zM824.58 463.5h0.6V484.7h-0.6zM825.17 484.7h0.6V488.9h-0.6zM825.75 488.9h0.6V502.5h-0.6zM826.34 502.5h0.6V519.6h-0.6zM826.93 510.4h0.6V519.6h-0.6zM827.51 510.4h0.6V524.0h-0.6zM828.10 520.2h0.6V524.0h-0.6zM828.69 520.2h0.6V531.8h-0.6zM829.27 525.2h0.6V531.8h-0.6zM829.86 525.2h0.6V531.3h-0.6zM830.45 519.6h0.6V531.3h-0.6zM831.03 519.6h0.6V521.6h-0.6zM831.62 520.9h0.6V521.7h-0.6zM832.21 520.9h0.6V525.8h-0.6zM832.79 525.8h0.6V526.7h-0.6zM833.38 526.7h0.6V528.5h-0.6zM833.97 524.1h0.6V528.5h-0.6zM834.55 524.1h0.6V526.3h-0.6zM835.14 521.5h0.6V526.3h-0.6zM835.73 518.1h0.6V521.5h-0.6zM836.31 518.1h0.6V520.6h-0.6zM836.90 520.6h0.6V521.6h-0.6zM837.49 513.9h0.6V521.6h-0.6zM838.07 513.3h0.6V514.1h-0.6zM838.66 513.5h0.6V515.6h-0.6zM839.25 515.6h0.6V516.4h-0.6zM839.83 516.4h0.6V518.2h-0.6zM840.42 517.8h0.6V518.6h-0.6zM841.01 515.5h0.6V518.2h-0.6zM841.59 511.4h0.6V515.5h-0.6zM842.18 501.2h0.6V511.4h-0.6zM842.77 501.0h0.6V501.8h-0.6zM843.35 501.2h0.6V502.0h-0.6zM843.94 494.9h0.6V501.7h-0.6zM844.53 494.9h0.6V501.5h-0.6zM845.11 501.5h0.6V503.4h-0.6zM845.70 499.0h0.6V503.4h-0.6zM846.29 499.0h0.6V507.7h-0.6zM846.87 507.7h0.6V509.2h-0.6zM847.46 509.2h0.6V514.6h-0.6zM848.05 514.2h0.6V515.0h-0.6zM848.63 514.6h0.6V519.6h-0.6zM849.22 514.5h0.6V519.6h-0.6zM849.81 506.7h0.6V514.5h-0.6zM850.39 506.7h0.6V510.4h-0.6zM850.98 504.0h0.6V510.4h-0.6zM851.57 504.0h0.6V512.2h-0.6zM852.15 512.2h0.6V514.0h-0.6zM852.74 509.4h0.6V514.0h-0.6zM853.32 509.4h0.6V516.3h-0.6zM853.91 514.8h0.6V516.3h-0.6zM854.50 514.8h0.6V517.8h-0.6zM855.08 514.7h0.6V517.8h-0.6zM855.67 514.7h0.6V518.9h-0.6zM856.26 515.7h0.6V518.9h-0.6zM856.84 515.7h0.6V517.8h-0.6zM857.43 517.8h0.6V525.3h-0.6zM858.02 520.5h0.6V525.3h-0.6zM858.60 519.3h0.6V520.5h-0.6zM859.19 519.0h0.6V519.8h-0.6zM859.78 516.4h0.6V519.4h-0.6zM860.36 512.5h0.6V516.4h-0.6zM860.95 511.2h0.6V512.5h-0.6zM861.54 511.2h0.6V520.7h-0.6zM862.12 509.1h0.6V520.7h-0.6zM862.71 509.1h0.6V511.9h-0.6zM863.30 497.9h0.6V511.9h-0.6zM863.88 486.8h0.6V497.9h-0.6zM864.47 477.8h0.6V486.8h-0.6zM865.06 477.8h0.6V479.8h-0.6zM865.64 477.5h0.6V479.8h-0.6zM866.23 469.1h0.6V477.5h-0.6zM866.82 467.0h0.6V469.1h-0.6zM867.40 467.0h0.6V468.8h-0.6zM867.99 463.7h0.6V468.8h-0.6zM868.58 459.6h0.6V463.7h-0.6zM869.16 455.3h0.6V459.6h-0.6zM869.75 455.3h0.6V460.1h-0.6zM870.34 460.1h0.6V467.9h-0.6zM870.92 467.9h0.6V474.4h-0.6zM871.51 474.0h0.6V474.8h-0.6zM872.10 474.4h0.6V475.4h-0.6zM872.68 475.4h0.6V478.0h-0.6zM873.27 478.0h0.6V494.1h-0.6zM873.86 494.1h0.6V496.9h-0.6zM874.44 489.4h0.6V496.9h-0.6zM875.03 489.4h0.6V493.9h-0.6zM875.62 493.9h0.6V496.4h-0.6zM876.20 483.9h0.6V496.4h-0.6zM876.79 475.2h0.6V483.9h-0.6zM877.38 470.2h0.6V475.2h-0.6zM877.96 469.9h0.6V470.7h-0.6zM878.55 460.5h0.6V470.4h-0.6zM879.14 460.5h0.6V465.7h-0.6zM879.72 465.7h0.6V471.0h-0.6zM880.31 471.0h0.6V472.6h-0.6zM880.90 470.8h0.6V472.6h-0.6zM881.48 470.8h0.6V477.2h-0.6zM882.07 477.2h0.6V502.3h-0.6zM882.65 476.8h0.6V502.3h-0.6zM883.24 476.7h0.6V477.5h-0.6zM883.83 468.1h0.6V477.4h-0.6zM884.41 468.1h0.6V474.7h-0.6zM885.00 465.6h0.6V474.7h-0.6zM885.59 445.7h0.6V465.6h-0.6zM886.17 431.9h0.6V445.7h-0.6zM886.76 431.2h0.6V432.0h-0.6zM887.35 431.2h0.6V436.0h-0.6zM887.93 436.0h0.6V445.6h-0.6zM888.52 439.5h0.6V445.6h-0.6zM889.11 438.9h0.6V439.7h-0.6zM889.69 438.4h0.6V439.2h-0.6zM890.28 434.1h0.6V438.4h-0.6zM890.87 431.0h0.6V434.1h-0.6zM891.45 431.0h0.6V438.4h-0.6zM892.04 431.7h0.6V438.4h-0.6zM892.63 431.7h0.6V440.9h-0.6zM893.21 426.0h0.6V440.9h-0.6zM893.80 425.4h0.6V426.2h-0.6zM894.39 415.0h0.6V425.5h-0.6zM894.97 404.2h0.6V415.0h-0.6zM895.56 404.2h0.6V406.0h-0.6zM896.15 405.5h0.6V406.3h-0.6zM896.73 405.4h0.6V406.2h-0.6zM897.32 405.7h0.6V420.5h-0.6zM897.91 411.5h0.6V420.5h-0.6zM898.49 411.5h0.6V419.3h-0.6zM899.08 414.5h0.6V419.3h-0.6zM899.67 400.3h0.6V414.5h-0.6zM900.25 394.9h0.6V400.3h-0.6zM900.84 394.9h0.6V413.1h-0.6zM901.43 412.7h0.6V413.5h-0.6zM902.01 406.4h0.6V413.0h-0.6zM902.60 399.2h0.6V406.4h-0.6zM903.19 399.2h0.6V400.0h-0.6zM903.77 399.9h0.6V410.2h-0.6zM904.36 402.2h0.6V410.2h-0.6zM904.95 402.2h0.6V414.3h-0.6zM905.53 403.6h0.6V414.3h-0.6zM906.12 403.6h0.6V429.8h-0.6zM906.71 429.8h0.6V446.4h-0.6zM907.29 446.4h0.6V467.8h-0.6zM907.88 467.8h0.6V475.8h-0.6zM908.47 475.5h0.6V476.3h-0.6zM909.05 475.9h0.6V480.9h-0.6zM909.64 480.9h0.6V486.6h-0.6zM910.23 478.9h0.6V486.6h-0.6zM910.81 478.9h0.6V480.3h-0.6zM911.40 480.3h0.6V494.7h-0.6zM911.98 478.3h0.6V494.7h-0.6zM912.57 478.3h0.6V487.9h-0.6zM913.16 471.4h0.6V487.9h-0.6zM913.74 471.4h0.6V476.8h-0.6zM914.33 460.0h0.6V476.8h-0.6zM914.92 460.0h0.6V466.8h-0.6zM915.50 466.8h0.6V474.6h-0.6zM916.09 470.5h0.6V474.6h-0.6zM916.68 465.5h0.6V470.5h-0.6zM917.26 464.5h0.6V465.5h-0.6zM917.85 464.5h0.6V467.1h-0.6zM918.44 467.1h0.6V470.5h-0.6zM919.02 470.5h0.6V475.6h-0.6zM919.61 474.5h0.6V475.6h-0.6zM920.20 474.5h0.6V476.3h-0.6zM920.78 470.6h0.6V476.3h-0.6zM921.37 470.6h0.6V472.7h-0.6zM921.96 469.8h0.6V472.7h-0.6zM922.54 469.1h0.6V469.9h-0.6zM923.13 469.2h0.6V475.9h-0.6zM923.72 466.8h0.6V475.9h-0.6zM924.30 462.7h0.6V466.8h-0.6zM924.89 462.7h0.6V468.0h-0.6zM925.48 468.0h0.6V469.4h-0.6zM926.06 467.9h0.6V469.4h-0.6zM926.65 467.9h0.6V470.3h-0.6zM927.24 470.3h0.6V476.6h-0.6zM927.82 476.4h0.6V477.2h-0.6zM928.41 477.0h0.6V479.4h-0.6zM929.00 470.6h0.6V479.4h-0.6zM929.58 470.6h0.6V474.0h-0.6zM930.17 470.4h0.6V474.0h-0.6zM930.76 470.4h0.6V473.5h-0.6zM931.34 472.8h0.6V473.6h-0.6zM931.93 472.9h0.6V474.1h-0.6zM932.52 472.5h0.6V474.1h-0.6zM933.10 472.5h0.6V475.2h-0.6zM933.69 473.5h0.6V475.2h-0.6zM934.28 473.5h0.6V477.6h-0.6zM934.86 475.1h0.6V477.6h-0.6zM935.45 475.1h0.6V477.6h-0.6zM936.04 476.9h0.6V477.7h-0.6zM936.62 472.7h0.6V477.1h-0.6zM937.21 472.4h0.6V473.2h-0.6zM937.80 473.0h0.6V478.6h-0.6zM938.38 474.4h0.6V478.6h-0.6zM938.97 474.4h0.6V476.9h-0.6zM939.56 476.4h0.6V477.2h-0.6zM940.14 474.8h0.6V476.7h-0.6zM940.73 474.8h0.6V478.1h-0.6zM941.31 474.5h0.6V478.1h-0.6zM941.90 474.5h0.6V478.6h-0.6zM942.49 476.5h0.6V478.6h-0.6zM943.07 475.4h0.6V476.5h-0.6zM943.66 469.6h0.6V475.4h-0.6zM944.25 469.6h0.6V470.9h-0.6zM944.83 470.9h0.6V472.1h-0.6zM945.42 468.9h0.6V472.1h-0.6zM946.01 463.9h0.6V468.9h-0.6zM946.59 461.2h0.6V463.9h-0.6zM947.18 461.2h0.6V473.1h-0.6zM947.77 469.9h0.6V473.1h-0.6zM948.35 469.9h0.6V471.3h-0.6zM948.94 470.8h0.6V471.6h-0.6zM949.53 471.2h0.6V480.5h-0.6zM950.11 479.7h0.6V480.5h-0.6zM950.70 479.0h0.6V479.8h-0.6zM951.29 479.0h0.6V486.5h-0.6zM951.87 483.4h0.6V486.5h-0.6zM952.46 479.7h0.6V483.4h-0.6zM953.05 479.7h0.6V480.6h-0.6zM953.63 480.6h0.6V486.5h-0.6zM954.22 486.5h0.6V488.1h-0.6zM954.81 478.4h0.6V488.1h-0.6zM955.39 476.9h0.6V478.4h-0.6zM955.98 475.9h0.6V476.9h-0.6zM956.57 475.9h0.6V480.5h-0.6zM957.15 475.6h0.6V480.5h-0.6zM957.74 468.5h0.6V475.6h-0.6zM958.33 468.5h0.6V473.5h-0.6zM958.91 471.6h0.6V473.5h-0.6zM959.50 465.7h0.6V471.6h-0.6zM960.09 450.4h0.6V465.7h-0.6zM960.67 442.2h0.6V450.4h-0.6zM961.26 434.0h0.6V442.2h-0.6zM961.85 420.4h0.6V434.0h-0.6zM962.43 419.9h0.6V420.7h-0.6zM963.02 419.7h0.6V420.5h-0.6zM963.61 418.1h0.6V420.0h-0.6zM964.19 417.4h0.6V418.2h-0.6zM964.78 414.4h0.6V417.5h-0.6zM965.37 400.4h0.6V414.4h-0.6zM965.95 400.4h0.6V401.4h-0.6zM966.54 386.9h0.6V401.4h-0.6zM967.13 386.9h0.6V389.0h-0.6zM967.71 389.0h0.6V405.7h-0.6zM968.30 395.3h0.6V405.7h-0.6zM968.89 395.3h0.6V403.4h-0.6zM969.47 403.4h0.6V404.8h-0.6zM970.06 401.7h0.6V404.8h-0.6zM970.64 401.7h0.6V402.5h-0.6zM971.23 402.5h0.6V407.4h-0.6zM971.82 403.6h0.6V407.4h-0.6zM972.40 403.6h0.6V408.9h-0.6zM972.99 408.8h0.6V409.6h-0.6zM973.58 409.6h0.6V412.2h-0.6zM974.16 412.2h0.6V420.9h-0.6zM974.75 420.9h0.6V433.5h-0.6zM975.34 433.5h0.6V442.1h-0.6zM975.92 434.8h0.6V442.1h-0.6zM976.51 426.7h0.6V434.8h-0.6zM977.10 426.7h0.6V433.7h-0.6zM977.68 433.7h0.6V440.6h-0.6zM978.27 440.6h0.6V445.4h-0.6zM978.86 445.4h0.6V447.9h-0.6zM979.44 445.7h0.6V447.9h-0.6zM980.03 435.8h0.6V445.7h-0.6zM980.62 435.8h0.6V436.8h-0.6zM981.20 433.6h0.6V436.8h-0.6zM981.79 433.6h0.6V448.2h-0.6zM982.38 447.0h0.6V448.2h-0.6zM982.96 447.0h0.6V455.2h-0.6zM983.55 452.3h0.6V455.2h-0.6zM984.14 452.3h0.6V457.2h-0.6zM984.72 453.1h0.6V457.2h-0.6zM985.31 440.0h0.6V453.1h-0.6zM985.90 437.6h0.6V440.0h-0.6zM986.48 437.4h0.6V438.2h-0.6zM987.07 404.0h0.6V438.0h-0.6zM987.66 383.5h0.6V404.0h-0.6zM988.24 327.1h0.6V383.5h-0.6zM988.83 326.6h0.6V327.4h-0.6zM989.42 326.9h0.6V337.5h-0.6zM990.00 327.0h0.6V337.5h-0.6zM990.59 327.0h0.6V332.9h-0.6zM991.18 332.4h0.6V333.2h-0.6zM991.76 332.8h0.6V334.3h-0.6zM992.35 329.4h0.6V334.3h-0.6zM992.94 329.4h0.6V331.0h-0.6zM993.52 322.3h0.6V331.0h-0.6zM994.11 321.6h0.6V322.4h-0.6zM994.70 321.8h0.6V324.8h-0.6zM995.28 324.8h0.6V327.1h-0.6zM995.87 322.8h0.6V327.1h-0.6zM996.46 319.9h0.6V322.8h-0.6zM997.04 317.5h0.6V319.9h-0.6zM997.63 317.5h0.6V324.7h-0.6zM998.22 324.4h0.6V325.2h-0.6zM998.80 324.9h0.6V340.5h-0.6zM999.39 340.5h0.6V343.4h-0.6zM999.97 343.4h0.6V344.6h-0.6zM1000.56 344.6h0.6V350.2h-0.6zM1001.15 350.2h0.6V354.8h-0.6zM1001.73 354.8h0.6V369.1h-0.6zM1002.32 363.7h0.6V369.1h-0.6zM1002.91 363.7h0.6V373.5h-0.6zM1003.49 368.6h0.6V373.5h-0.6zM1004.08 368.6h0.6V375.0h-0.6zM1004.67 375.0h0.6V387.2h-0.6zM1005.25 386.8h0.6V387.6h-0.6zM1005.84 374.9h0.6V387.1h-0.6zM1006.43 374.9h0.6V382.9h-0.6zM1007.01 377.0h0.6V382.9h-0.6zM1007.60 373.3h0.6V377.0h-0.6zM1008.19 373.3h0.6V374.6h-0.6zM1008.77 374.4h0.6V375.2h-0.6zM1009.36 369.3h0.6V374.9h-0.6zM1009.95 369.3h0.6V373.6h-0.6zM1010.53 373.6h0.6V374.5h-0.6zM1011.12 374.5h0.6V383.9h-0.6zM1011.71 368.7h0.6V383.9h-0.6zM1012.29 368.7h0.6V377.7h-0.6zM1012.88 366.9h0.6V377.7h-0.6zM1013.47 353.3h0.6V366.9h-0.6zM1014.05 344.2h0.6V353.3h-0.6zM1014.64 344.2h0.6V360.2h-0.6zM1015.23 355.7h0.6V360.2h-0.6zM1015.81 351.2h0.6V355.7h-0.6zM1016.40 351.2h0.6V360.7h-0.6zM1016.99 360.7h0.6V363.2h-0.6zM1017.57 363.2h0.6V365.3h-0.6zM1018.16 365.3h0.6V370.7h-0.6zM1018.75 370.7h0.6V374.4h-0.6zM1019.33 371.9h0.6V374.4h-0.6zM1019.92 366.7h0.6V371.9h-0.6zM1020.51 366.7h0.6V376.0h-0.6zM1021.09 374.4h0.6V376.0h-0.6zM1021.68 369.0h0.6V374.4h-0.6zM1022.27 360.0h0.6V369.0h-0.6zM1022.85 360.0h0.6V363.3h-0.6zM1023.44 363.0h0.6V363.8h-0.6zM1024.03 349.4h0.6V363.4h-0.6zM1024.61 343.9h0.6V349.4h-0.6zM1025.20 342.9h0.6V343.9h-0.6zM1025.79 328.9h0.6V342.9h-0.6zM1026.37 326.9h0.6V328.9h-0.6zM1026.96 326.9h0.6V330.7h-0.6zM1027.55 327.5h0.6V330.7h-0.6zM1028.13 327.5h0.6V329.8h-0.6zM1028.72 326.6h0.6V329.8h-0.6zM1029.30 326.6h0.6V330.4h-0.6zM1029.89 330.4h0.6V332.2h-0.6zM1030.48 326.2h0.6V332.2h-0.6zM1031.06 326.2h0.6V334.6h-0.6zM1031.65 331.1h0.6V334.6h-0.6zM1032.24 331.1h0.6V336.3h-0.6zM1032.82 335.8h0.6V336.6h-0.6zM1033.41 334.9h0.6V336.0h-0.6zM1034.00 334.9h0.6V337.2h-0.6zM1034.58 333.1h0.6V337.2h-0.6zM1035.17 333.1h0.6V334.8h-0.6zM1035.76 330.3h0.6V334.8h-0.6zM1036.34 330.3h0.6V332.0h-0.6zM1036.93 332.0h0.6V334.5h-0.6zM1037.52 334.5h0.6V338.4h-0.6zM1038.10 331.8h0.6V338.4h-0.6zM1038.69 331.8h0.6V334.5h-0.6zM1039.28 331.5h0.6V334.5h-0.6zM1039.86 329.5h0.6V331.5h-0.6zM1040.45 325.8h0.6V329.5h-0.6zM1041.04 308.5h0.6V325.8h-0.6zM1041.62 308.5h0.6V314.8h-0.6zM1042.21 296.1h0.6V314.8h-0.6zM1042.80 293.6h0.6V296.1h-0.6zM1043.38 291.9h0.6V293.6h-0.6zM1043.97 291.2h0.6V292.0h-0.6zM1044.56 291.2h0.6V297.4h-0.6zM1045.14 296.5h0.6V297.4h-0.6zM1045.73 296.5h0.6V327.0h-0.6zM1046.32 327.0h0.6V343.9h-0.6zM1046.90 343.9h0.6V346.5h-0.6zM1047.49 346.5h0.6V347.6h-0.6zM1048.08 347.6h0.6V351.0h-0.6zM1048.66 351.0h0.6V352.6h-0.6zM1049.25 352.3h0.6V353.1h-0.6zM1049.84 350.8h0.6V352.9h-0.6zM1050.42 350.8h0.6V357.4h-0.6zM1051.01 354.3h0.6V357.4h-0.6zM1051.60 354.3h0.6V366.1h-0.6zM1052.18 358.8h0.6V366.1h-0.6zM1052.77 358.8h0.6V372.3h-0.6zM1053.36 367.2h0.6V372.3h-0.6zM1053.94 367.2h0.6V373.7h-0.6zM1054.53 365.2h0.6V373.7h-0.6zM1055.12 365.2h0.6V372.5h-0.6zM1055.70 372.5h0.6V374.7h-0.6zM1056.29 361.5h0.6V374.7h-0.6zM1056.88 354.8h0.6V361.5h-0.6zM1057.46 354.8h0.6V364.4h-0.6zM1058.05 364.4h0.6V367.6h-0.6zM1058.63 367.3h0.6V368.1h-0.6zM1059.22 365.9h0.6V367.8h-0.6zM1059.81 365.9h0.6V369.6h-0.6zM1060.39 369.6h0.6V372.3h-0.6zM1060.98 371.8h0.6V372.6h-0.6zM1061.57 372.0h0.6V372.8h-0.6zM1062.15 365.8h0.6V372.7h-0.6zM1062.74 365.8h0.6V373.5h-0.6zM1063.33 373.5h0.6V374.3h-0.6zM1063.91 367.4h0.6V374.3h-0.6zM1064.50 367.4h0.6V373.0h-0.6zM1065.09 373.0h0.6V375.9h-0.6zM1065.67 375.9h0.6V377.2h-0.6zM1066.26 370.1h0.6V377.2h-0.6zM1066.85 364.7h0.6V370.1h-0.6zM1067.43 358.0h0.6V364.7h-0.6zM1068.02 358.0h0.6V363.2h-0.6zM1068.61 354.6h0.6V363.2h-0.6zM1069.19 346.3h0.6V354.6h-0.6zM1069.78 343.0h0.6V346.3h-0.6zM1070.37 322.8h0.6V343.0h-0.6zM1070.95 317.2h0.6V322.8h-0.6zM1071.54 317.2h0.6V320.5h-0.6zM1072.13 319.9h0.6V320.7h-0.6zM1072.71 307.1h0.6V320.1h-0.6zM1073.30 303.8h0.6V307.1h-0.6z" fill="#2a2a2a"/>
<path d="M53.30 20.0h1V60.0h-1zM54.10 20.0h1V96.0h-1zM55.90 96.0h1V132.0h-1zM129.70 585.0h1V656.0h-1zM130.40 600.0h1V650.0h-1z" fill="#111"/>
</svg>
<svg width="1199" height="763" style="position:absolute;left:0;top:0">
<line x1="8" y1="263.5" x2="1138" y2="263.5" stroke="#9ea3bf" stroke-width="1" stroke-dasharray="1.3 1.2"/>
<line x1="8" y1="265.2" x2="1138" y2="265.2" stroke="#d3d8ee" stroke-width="0.6" stroke-dasharray="1.3 1.2"/>
<circle cx="678.5" cy="223" r="7.3" fill="#f7b24a" fill-opacity="0.7"/>
<circle cx="693.8" cy="249" r="7.3" fill="#f7b24a" fill-opacity="0.7"/>
<line x1="691.5" y1="283.4" x2="1043.5" y2="283.4" stroke="#6f6f6f" stroke-width="1"/>
<text x="1032" y="281.3" font-family="Liberation Sans" font-weight="bold" font-size="6.4" fill="#111" stroke="#111" stroke-width="0.12">H1</text>
<line x1="1018.3" y1="383.1" x2="1055" y2="383.1" stroke="#777" stroke-width="1"/>
<text x="1032.6" y="380.8" font-family="Liberation Sans" font-weight="bold" font-size="6.6" fill="#111" stroke="#111" stroke-width="0.1">sweep</text>
<line x1="977" y1="445" x2="1102" y2="445" stroke="#999" stroke-width="1"/>
<text x="1091.6" y="442.2" font-family="Liberation Sans" font-weight="bold" font-size="6.4" fill="#111" stroke="#111" stroke-width="0.12">H4</text>
<g transform="translate(1072.9,687.4)">
<path d="M 3.4 -6.8 A 7.5 7.5 0 1 0 7.3 -2.0" fill="none" stroke="#7a2e96" stroke-width="1.35"/>
<path d="M 2.4 -4.2 L -2.8 1.0 L 0.0 1.0 L -2.0 4.1 L 3.3 -1.1 L 0.6 -1.1 Z" fill="#7f30a0"/>
<circle cx="5.4" cy="-5.1" r="1.9" fill="#d8283e"/>
</g>
</svg>
<div class="a" id="sym">ETHUSDT.P · 1h · Binance</div>
<div class="a" id="usdt">USDT</div>
<div class="pl" style="top:56.1px">2,600.00</div>
<div class="pl" style="top:86.3px">2,560.00</div>
<div class="pl" style="top:116.6px">2,520.00</div>
<div class="pl" style="top:146.9px">2,480.00</div>
<div class="pl" style="top:177.1px">2,440.00</div>
<div class="pl" style="top:207.4px">2,400.00</div>
<div class="pl" style="top:237.6px">2,360.00</div>
<div class="pl" style="top:298.1px">2,280.00</div>
<div class="pl" style="top:328.4px">2,240.00</div>
<div class="pl" style="top:358.6px">2,200.00</div>
<div class="pl" style="top:388.9px">2,160.00</div>
<div class="pl" style="top:419.1px">2,120.00</div>
<div class="pl" style="top:449.4px">2,080.00</div>
<div class="pl" style="top:479.6px">2,040.00</div>
<div class="pl" style="top:509.8px">2,000.00</div>
<div class="pl" style="top:540.1px">1,960.00</div>
<div class="pl" style="top:570.3px">1,920.00</div>
<div class="pl" style="top:600.6px">1,880.00</div>
<div class="pl" style="top:630.8px">1,840.00</div>
<div class="pl" style="top:661.1px">1,800.00</div>
<div class="a" id="tag"><span class="p">2,331.77</span><span class="c">36:35</span></div>
<div class="tl" style="left:19.1px">29</div>
<div class="tl" style="left:61.3px"><b>Feb</b></div>
<div class="tl" style="left:103.5px">4</div>
<div class="tl" style="left:145.7px">7</div>
<div class="tl" style="left:187.9px">10</div>
<div class="tl" style="left:230.1px">13</div>
<div class="tl" style="left:272.3px">16</div>
<div class="tl" style="left:314.5px">19</div>
<div class="tl" style="left:356.7px">22</div>
<div class="tl" style="left:398.9px">25</div>
<div class="tl" style="left:455.1px"><b>Mar</b></div>
<div class="tl" style="left:497.3px">4</div>
<div class="tl" style="left:539.5px">7</div>
<div class="tl" style="left:581.7px">10</div>
<div class="tl" style="left:623.9px">13</div>
<div class="tl" style="left:666.1px">16</div>
<div class="tl" style="left:708.3px">19</div>
<div class="tl" style="left:750.5px">22</div>
<div class="tl" style="left:792.7px">25</div>
<div class="tl" style="left:834.9px">28</div>
<div class="tl" style="left:891.1px"><b>Apr</b></div>
<div class="tl" style="left:933.3px">4</div>
<div class="tl" style="left:975.5px">7</div>
<div class="tl" style="left:1017.7px">10</div>
<div class="tl" style="left:1059.9px">13</div>
<div class="tl" style="left:1102.1px">16</div>
<svg width="40" height="20" style="position:absolute;left:0;top:728px"><g transform="translate(0,-728)" fill="#000"><path d="M9 734.8H17.8V745.5H13.8V738.8H9Z"/><circle cx="22" cy="736.8" r="2"/><path d="M25.8 734.8H31.2L27.8 745.5H22.3Z"/></g></svg><div class="a" style="left:37px;top:733px;font-weight:bold;font-size:15.5px;letter-spacing:0px;color:#000">TradingView</div>
</body></html>
